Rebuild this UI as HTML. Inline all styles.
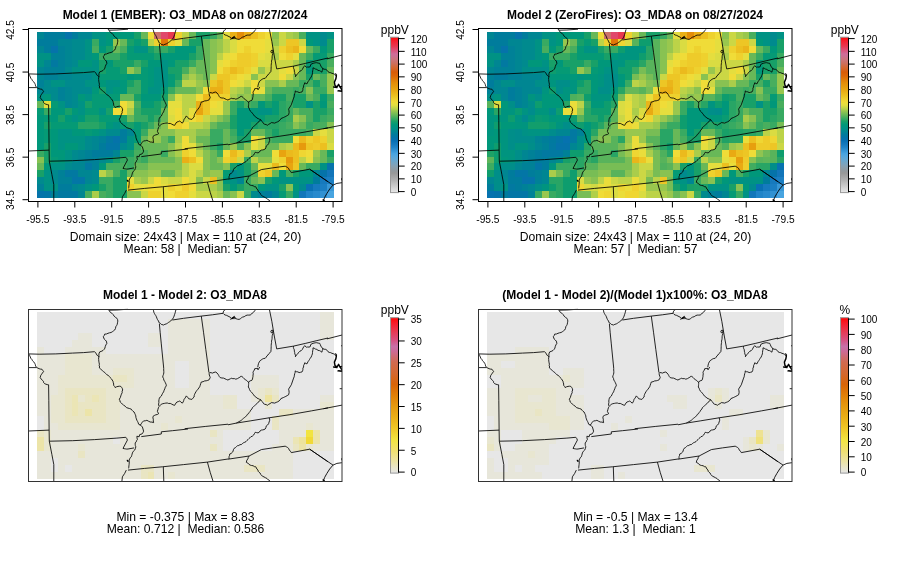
<!DOCTYPE html>
<html><head><meta charset="utf-8"><title>O3_MDA8</title>
<style>
html,body{margin:0;padding:0;background:#fff;}
svg{display:block;will-change:transform;font-family:"Liberation Sans",sans-serif;}
text{fill:#000;}

.t{font-weight:bold;font-size:12px;}
.s{font-size:12.15px;}
</style></head><body>
<svg width="900" height="561" viewBox="0 0 900 561">
<defs>
<linearGradient id="g1" x1="0" y1="1" x2="0" y2="0">
<stop offset="0.0000" stop-color="#e8e8e8"/>
<stop offset="0.0417" stop-color="#cccccc"/>
<stop offset="0.0833" stop-color="#b0b0b0"/>
<stop offset="0.1042" stop-color="#a4a4a4"/>
<stop offset="0.1250" stop-color="#989898"/>
<stop offset="0.1458" stop-color="#909aa0"/>
<stop offset="0.1667" stop-color="#88a0b0"/>
<stop offset="0.1875" stop-color="#78a4c0"/>
<stop offset="0.2083" stop-color="#68a8d0"/>
<stop offset="0.2292" stop-color="#58a8dc"/>
<stop offset="0.2500" stop-color="#48a4e0"/>
<stop offset="0.2708" stop-color="#3494d4"/>
<stop offset="0.2917" stop-color="#2084c8"/>
<stop offset="0.3125" stop-color="#1478bc"/>
<stop offset="0.3333" stop-color="#0870b4"/>
<stop offset="0.3542" stop-color="#0474a8"/>
<stop offset="0.3750" stop-color="#007c9c"/>
<stop offset="0.3958" stop-color="#008890"/>
<stop offset="0.4167" stop-color="#009284"/>
<stop offset="0.4375" stop-color="#009878"/>
<stop offset="0.4583" stop-color="#18a068"/>
<stop offset="0.4792" stop-color="#40ac60"/>
<stop offset="0.5000" stop-color="#68b858"/>
<stop offset="0.5208" stop-color="#90c450"/>
<stop offset="0.5417" stop-color="#bcd348"/>
<stop offset="0.5625" stop-color="#e2de40"/>
<stop offset="0.5833" stop-color="#f0dc38"/>
<stop offset="0.6250" stop-color="#ecc020"/>
<stop offset="0.6667" stop-color="#e8a410"/>
<stop offset="0.7083" stop-color="#e48c08"/>
<stop offset="0.7500" stop-color="#dc6808"/>
<stop offset="0.7750" stop-color="#d85c08"/>
<stop offset="0.8083" stop-color="#d46a38"/>
<stop offset="0.8333" stop-color="#cc7060"/>
<stop offset="0.8542" stop-color="#cc7478"/>
<stop offset="0.8750" stop-color="#cc7090"/>
<stop offset="0.8917" stop-color="#cf6c9a"/>
<stop offset="0.9167" stop-color="#dc5078"/>
<stop offset="0.9417" stop-color="#e83850"/>
<stop offset="0.9750" stop-color="#f52030"/>
<stop offset="1.0000" stop-color="#ff0a0a"/>
</linearGradient>
<linearGradient id="g2" x1="0" y1="1" x2="0" y2="0">
<stop offset="0.0000" stop-color="#e7e7e7"/>
<stop offset="0.0143" stop-color="#e7e6da"/>
<stop offset="0.0286" stop-color="#e8e6d0"/>
<stop offset="0.0714" stop-color="#ece4a8"/>
<stop offset="0.1429" stop-color="#f0e070"/>
<stop offset="0.2143" stop-color="#f2e440"/>
<stop offset="0.2857" stop-color="#f0c828"/>
<stop offset="0.3571" stop-color="#eab018"/>
<stop offset="0.4286" stop-color="#e59a10"/>
<stop offset="0.5000" stop-color="#e08008"/>
<stop offset="0.5714" stop-color="#d86408"/>
<stop offset="0.6429" stop-color="#d46830"/>
<stop offset="0.7143" stop-color="#d06a50"/>
<stop offset="0.7857" stop-color="#cc6a98"/>
<stop offset="0.8143" stop-color="#c870a8"/>
<stop offset="0.8571" stop-color="#d85080"/>
<stop offset="0.9143" stop-color="#e83850"/>
<stop offset="0.9571" stop-color="#f52030"/>
<stop offset="1.0000" stop-color="#ff0808"/>
</linearGradient>
</defs>
<rect width="900" height="561" fill="#fff"/>
<g>

<text class="t" x="185" y="18.5" text-anchor="middle">Model 1 (EMBER): O3_MDA8 on 08/27/2024</text>
<text class="t" x="635" y="18.5" text-anchor="middle">Model 2 (ZeroFires): O3_MDA8 on 08/27/2024</text>
<text class="t" x="185" y="299.0" text-anchor="middle">Model 1 - Model 2: O3_MDA8</text>
<text class="t" x="635" y="299.0" text-anchor="middle">(Model 1 - Model 2)/(Model 1)x100%: O3_MDA8</text>
<text class="s" x="185.5" y="241" text-anchor="middle">Domain size: 24x43 | Max = 110 at (24, 20)</text>
<text class="s" x="185.5" y="253" text-anchor="middle" xml:space="preserve">Mean: 58 |  Median: 57</text>
<text class="s" x="635.5" y="241" text-anchor="middle">Domain size: 24x43 | Max = 110 at (24, 20)</text>
<text class="s" x="635.5" y="253" text-anchor="middle" xml:space="preserve">Mean: 57 |  Median: 57</text>
<text class="s" x="185.5" y="521" text-anchor="middle">Min = -0.375 | Max = 8.83</text>
<text class="s" x="185.5" y="533" text-anchor="middle" xml:space="preserve">Mean: 0.712 |  Median: 0.586</text>
<text class="s" x="635.5" y="521" text-anchor="middle">Min = -0.5 | Max = 13.4</text>
<text class="s" x="635.5" y="533" text-anchor="middle" xml:space="preserve">Mean: 1.3 |  Median: 1</text>
<g shape-rendering="crispEdges"><path fill="#008692" d="M37.00 32.00h6.91v6.92h-6.91zM78.44 32.00h13.81v6.92h-13.81zM57.72 38.92h13.81v6.92h-13.81zM37.00 45.83h6.91v6.92h-6.91zM64.63 45.83h6.91v6.92h-6.91zM64.63 52.75h6.91v6.92h-6.91zM43.91 59.67h6.91v6.92h-6.91zM64.63 59.67h6.91v6.92h-6.91zM37.00 66.58h6.91v6.92h-6.91zM37.00 73.50h6.91v6.92h-6.91zM57.72 73.50h13.81v6.92h-13.81zM37.00 87.33h6.91v6.92h-6.91zM64.63 87.33h6.91v6.92h-6.91zM64.63 94.25h6.91v6.92h-6.91zM64.63 101.17h6.91v6.92h-6.91zM126.79 128.83h6.91v6.92h-6.91zM92.26 135.75h6.91v6.92h-6.91zM92.26 142.67h6.91v6.92h-6.91zM78.44 149.58h6.91v6.92h-6.91zM112.98 149.58h6.91v6.92h-6.91zM78.44 156.50h6.91v6.92h-6.91zM71.53 163.42h13.81v6.92h-13.81zM78.44 170.33h13.81v6.92h-13.81zM313.28 170.33h6.91v6.92h-6.91zM85.35 177.25h6.91v6.92h-6.91zM237.30 177.25h6.91v6.92h-6.91zM71.53 184.17h6.91v6.92h-6.91zM78.44 191.08h6.91v6.92h-6.91zM271.84 191.08h6.91v6.92h-6.91z"/>
<path fill="#007c9c" d="M43.91 32.00h20.72v6.92h-20.72zM71.53 32.00h6.91v6.92h-6.91zM37.00 38.92h20.72v6.92h-20.72zM43.91 45.83h6.91v6.92h-6.91zM119.88 128.83h6.91v6.92h-6.91zM119.88 135.75h6.91v6.92h-6.91zM99.16 142.67h6.91v6.92h-6.91zM92.26 149.58h20.72v6.92h-20.72zM313.28 177.25h6.91v6.92h-6.91zM57.72 184.17h13.81v6.92h-13.81zM264.93 191.08h6.91v6.92h-6.91z"/>
<path fill="#0573aa" d="M64.63 32.00h6.91v6.92h-6.91zM50.81 45.83h6.91v6.92h-6.91zM112.98 135.75h6.91v6.92h-6.91zM327.09 163.42h6.91v6.92h-6.91zM320.19 170.33h6.91v6.92h-6.91zM37.00 191.08h6.91v6.92h-6.91z"/>
<path fill="#009284" d="M92.26 32.00h13.81v6.92h-13.81zM306.37 32.00h13.81v6.92h-13.81zM327.09 32.00h6.91v6.92h-6.91zM85.35 38.92h6.91v6.92h-6.91zM99.16 38.92h6.91v6.92h-6.91zM313.28 38.92h6.91v6.92h-6.91zM85.35 45.83h6.91v6.92h-6.91zM133.70 45.83h13.81v6.92h-13.81zM37.00 52.75h13.81v6.92h-13.81zM85.35 52.75h6.91v6.92h-6.91zM37.00 59.67h6.91v6.92h-6.91zM92.26 59.67h6.91v6.92h-6.91zM161.33 59.67h6.91v6.92h-6.91zM71.53 66.58h27.63v6.92h-27.63zM154.42 66.58h13.81v6.92h-13.81zM92.26 73.50h6.91v6.92h-6.91zM154.42 73.50h13.81v6.92h-13.81zM50.81 80.42h13.81v6.92h-13.81zM85.35 80.42h13.81v6.92h-13.81zM106.07 80.42h13.81v6.92h-13.81zM154.42 80.42h13.81v6.92h-13.81zM106.07 87.33h6.91v6.92h-6.91zM147.51 87.33h13.81v6.92h-13.81zM37.00 94.25h6.91v6.92h-6.91zM85.35 94.25h6.91v6.92h-6.91zM57.72 101.17h6.91v6.92h-6.91zM78.44 101.17h6.91v6.92h-6.91zM306.37 101.17h6.91v6.92h-6.91zM78.44 108.08h6.91v6.92h-6.91zM99.16 108.08h6.91v6.92h-6.91zM258.02 108.08h13.81v6.92h-13.81zM71.53 115.00h6.91v6.92h-6.91zM112.98 121.92h6.91v6.92h-6.91zM57.72 128.83h13.81v6.92h-13.81zM99.16 128.83h6.91v6.92h-6.91zM57.72 135.75h27.63v6.92h-27.63zM126.79 135.75h6.91v6.92h-6.91zM57.72 142.67h6.91v6.92h-6.91zM78.44 142.67h6.91v6.92h-6.91zM126.79 142.67h6.91v6.92h-6.91zM64.63 149.58h6.91v6.92h-6.91zM64.63 156.50h6.91v6.92h-6.91zM106.07 156.50h6.91v6.92h-6.91zM50.81 163.42h13.81v6.92h-13.81zM320.19 163.42h6.91v6.92h-6.91zM43.91 170.33h6.91v6.92h-6.91zM237.30 170.33h6.91v6.92h-6.91zM43.91 177.25h6.91v6.92h-6.91zM230.40 177.25h6.91v6.92h-6.91zM278.74 177.25h34.53v6.92h-34.53zM43.91 184.17h13.81v6.92h-13.81zM85.35 184.17h6.91v6.92h-6.91zM264.93 184.17h13.81v6.92h-13.81zM292.56 191.08h6.91v6.92h-6.91z"/>
<path fill="#00977a" d="M106.07 32.00h27.63v6.92h-27.63zM106.07 38.92h6.91v6.92h-6.91zM306.37 38.92h6.91v6.92h-6.91zM99.16 45.83h6.91v6.92h-6.91zM175.14 45.83h20.72v6.92h-20.72zM320.19 45.83h6.91v6.92h-6.91zM92.26 52.75h6.91v6.92h-6.91zM161.33 52.75h27.63v6.92h-27.63zM78.44 59.67h13.81v6.92h-13.81zM106.07 59.67h6.91v6.92h-6.91zM147.51 59.67h13.81v6.92h-13.81zM168.23 59.67h6.91v6.92h-6.91zM147.51 66.58h6.91v6.92h-6.91zM306.37 66.58h6.91v6.92h-6.91zM126.79 73.50h6.91v6.92h-6.91zM147.51 73.50h6.91v6.92h-6.91zM99.16 80.42h6.91v6.92h-6.91zM119.88 80.42h6.91v6.92h-6.91zM147.51 80.42h6.91v6.92h-6.91zM92.26 87.33h6.91v6.92h-6.91zM112.98 87.33h13.81v6.92h-13.81zM43.91 94.25h6.91v6.92h-6.91zM78.44 94.25h6.91v6.92h-6.91zM140.60 94.25h20.72v6.92h-20.72zM258.02 101.17h6.91v6.92h-6.91zM320.19 101.17h6.91v6.92h-6.91zM50.81 108.08h13.81v6.92h-13.81zM71.53 108.08h6.91v6.92h-6.91zM237.30 108.08h20.72v6.92h-20.72zM37.00 115.00h6.91v6.92h-6.91zM50.81 115.00h6.91v6.92h-6.91zM64.63 115.00h6.91v6.92h-6.91zM78.44 115.00h6.91v6.92h-6.91zM237.30 115.00h20.72v6.92h-20.72zM37.00 121.92h6.91v6.92h-6.91zM106.07 121.92h6.91v6.92h-6.91zM237.30 121.92h13.81v6.92h-13.81zM37.00 128.83h6.91v6.92h-6.91zM50.81 128.83h6.91v6.92h-6.91zM71.53 128.83h13.81v6.92h-13.81zM92.26 128.83h6.91v6.92h-6.91zM237.30 128.83h6.91v6.92h-6.91zM37.00 135.75h6.91v6.92h-6.91zM50.81 135.75h6.91v6.92h-6.91zM37.00 142.67h6.91v6.92h-6.91zM50.81 142.67h6.91v6.92h-6.91zM64.63 142.67h13.81v6.92h-13.81zM50.81 149.58h13.81v6.92h-13.81zM57.72 156.50h6.91v6.92h-6.91zM43.91 163.42h6.91v6.92h-6.91zM99.16 163.42h6.91v6.92h-6.91zM237.30 163.42h6.91v6.92h-6.91zM278.74 170.33h6.91v6.92h-6.91zM299.47 170.33h13.81v6.92h-13.81zM223.49 177.25h6.91v6.92h-6.91zM271.84 177.25h6.91v6.92h-6.91zM92.26 184.17h6.91v6.92h-6.91zM230.40 184.17h6.91v6.92h-6.91zM258.02 184.17h6.91v6.92h-6.91zM292.56 184.17h6.91v6.92h-6.91z"/>
<path fill="#18a068" d="M133.70 32.00h6.91v6.92h-6.91zM195.86 32.00h13.81v6.92h-13.81zM126.79 38.92h6.91v6.92h-6.91zM140.60 38.92h6.91v6.92h-6.91zM188.95 38.92h13.81v6.92h-13.81zM327.09 38.92h6.91v6.92h-6.91zM106.07 45.83h6.91v6.92h-6.91zM147.51 45.83h6.91v6.92h-6.91zM168.23 45.83h6.91v6.92h-6.91zM327.09 45.83h6.91v6.92h-6.91zM119.88 52.75h6.91v6.92h-6.91zM154.42 52.75h6.91v6.92h-6.91zM188.95 52.75h6.91v6.92h-6.91zM99.16 59.67h6.91v6.92h-6.91zM112.98 59.67h20.72v6.92h-20.72zM140.60 59.67h6.91v6.92h-6.91zM175.14 59.67h13.81v6.92h-13.81zM313.28 59.67h13.81v6.92h-13.81zM99.16 66.58h6.91v6.92h-6.91zM119.88 66.58h6.91v6.92h-6.91zM168.23 66.58h13.81v6.92h-13.81zM313.28 66.58h13.81v6.92h-13.81zM175.14 73.50h6.91v6.92h-6.91zM306.37 73.50h6.91v6.92h-6.91zM126.79 80.42h6.91v6.92h-6.91zM313.28 80.42h6.91v6.92h-6.91zM99.16 87.33h6.91v6.92h-6.91zM133.70 94.25h6.91v6.92h-6.91zM161.33 94.25h6.91v6.92h-6.91zM271.84 94.25h13.81v6.92h-13.81zM292.56 94.25h13.81v6.92h-13.81zM85.35 101.17h6.91v6.92h-6.91zM154.42 101.17h6.91v6.92h-6.91zM237.30 101.17h6.91v6.92h-6.91zM264.93 101.17h6.91v6.92h-6.91zM292.56 101.17h13.81v6.92h-13.81zM313.28 101.17h6.91v6.92h-6.91zM64.63 108.08h6.91v6.92h-6.91zM106.07 108.08h6.91v6.92h-6.91zM140.60 108.08h20.72v6.92h-20.72zM313.28 108.08h13.81v6.92h-13.81zM57.72 115.00h6.91v6.92h-6.91zM85.35 115.00h13.81v6.92h-13.81zM119.88 115.00h6.91v6.92h-6.91zM147.51 115.00h6.91v6.92h-6.91zM230.40 115.00h6.91v6.92h-6.91zM264.93 115.00h13.81v6.92h-13.81zM313.28 115.00h6.91v6.92h-6.91zM43.91 121.92h6.91v6.92h-6.91zM99.16 121.92h6.91v6.92h-6.91zM126.79 121.92h6.91v6.92h-6.91zM140.60 121.92h6.91v6.92h-6.91zM230.40 121.92h6.91v6.92h-6.91zM251.12 121.92h6.91v6.92h-6.91zM244.21 128.83h6.91v6.92h-6.91zM271.84 128.83h6.91v6.92h-6.91zM237.30 135.75h13.81v6.92h-13.81zM43.91 142.67h6.91v6.92h-6.91zM216.58 142.67h6.91v6.92h-6.91zM43.91 149.58h6.91v6.92h-6.91zM119.88 149.58h13.81v6.92h-13.81zM327.09 149.58h6.91v6.92h-6.91zM43.91 156.50h6.91v6.92h-6.91zM112.98 156.50h6.91v6.92h-6.91zM230.40 163.42h6.91v6.92h-6.91zM244.21 163.42h6.91v6.92h-6.91zM37.00 170.33h6.91v6.92h-6.91zM119.88 170.33h6.91v6.92h-6.91zM244.21 170.33h6.91v6.92h-6.91zM292.56 170.33h6.91v6.92h-6.91zM112.98 177.25h13.81v6.92h-13.81zM264.93 177.25h6.91v6.92h-6.91zM99.16 184.17h6.91v6.92h-6.91zM112.98 184.17h13.81v6.92h-13.81zM223.49 184.17h6.91v6.92h-6.91zM237.30 184.17h6.91v6.92h-6.91zM278.74 184.17h6.91v6.92h-6.91zM112.98 191.08h13.81v6.92h-13.81z"/>
<path fill="#68b858" d="M140.60 32.00h6.91v6.92h-6.91zM188.95 32.00h6.91v6.92h-6.91zM216.58 32.00h6.91v6.92h-6.91zM119.88 38.92h6.91v6.92h-6.91zM182.05 38.92h6.91v6.92h-6.91zM202.77 38.92h6.91v6.92h-6.91zM112.98 45.83h6.91v6.92h-6.91zM202.77 45.83h6.91v6.92h-6.91zM306.37 45.83h6.91v6.92h-6.91zM202.77 52.75h6.91v6.92h-6.91zM299.47 52.75h6.91v6.92h-6.91zM195.86 59.67h13.81v6.92h-13.81zM299.47 59.67h6.91v6.92h-6.91zM133.70 66.58h6.91v6.92h-6.91zM195.86 66.58h13.81v6.92h-13.81zM299.47 66.58h6.91v6.92h-6.91zM327.09 66.58h6.91v6.92h-6.91zM202.77 73.50h6.91v6.92h-6.91zM299.47 73.50h6.91v6.92h-6.91zM313.28 73.50h6.91v6.92h-6.91zM285.65 80.42h13.81v6.92h-13.81zM175.14 87.33h20.72v6.92h-20.72zM264.93 87.33h6.91v6.92h-6.91zM119.88 94.25h13.81v6.92h-13.81zM251.12 94.25h13.81v6.92h-13.81zM306.37 94.25h6.91v6.92h-6.91zM37.00 101.17h6.91v6.92h-6.91zM161.33 108.08h6.91v6.92h-6.91zM292.56 108.08h6.91v6.92h-6.91zM126.79 115.00h6.91v6.92h-6.91zM161.33 115.00h6.91v6.92h-6.91zM223.49 115.00h6.91v6.92h-6.91zM154.42 121.92h6.91v6.92h-6.91zM209.67 121.92h6.91v6.92h-6.91zM299.47 121.92h6.91v6.92h-6.91zM223.49 128.83h6.91v6.92h-6.91zM251.12 128.83h13.81v6.92h-13.81zM140.60 135.75h6.91v6.92h-6.91zM161.33 135.75h6.91v6.92h-6.91zM195.86 135.75h13.81v6.92h-13.81zM223.49 135.75h6.91v6.92h-6.91zM140.60 142.67h27.63v6.92h-27.63zM202.77 142.67h6.91v6.92h-6.91zM223.49 142.67h6.91v6.92h-6.91zM264.93 142.67h13.81v6.92h-13.81zM147.51 149.58h13.81v6.92h-13.81zM209.67 149.58h6.91v6.92h-6.91zM251.12 149.58h20.72v6.92h-20.72zM320.19 149.58h6.91v6.92h-6.91zM147.51 156.50h27.63v6.92h-27.63zM209.67 156.50h6.91v6.92h-6.91zM320.19 156.50h6.91v6.92h-6.91zM37.00 163.42h6.91v6.92h-6.91zM133.70 163.42h13.81v6.92h-13.81zM209.67 163.42h13.81v6.92h-13.81zM251.12 163.42h6.91v6.92h-6.91zM299.47 163.42h6.91v6.92h-6.91zM126.79 170.33h6.91v6.92h-6.91zM161.33 170.33h13.81v6.92h-13.81zM271.84 170.33h6.91v6.92h-6.91zM251.12 177.25h6.91v6.92h-6.91zM223.49 191.08h6.91v6.92h-6.91z"/>
<path fill="#f0dc38" d="M147.51 32.00h6.91v6.92h-6.91zM264.93 32.00h6.91v6.92h-6.91zM237.30 38.92h27.63v6.92h-27.63zM237.30 45.83h6.91v6.92h-6.91zM251.12 45.83h13.81v6.92h-13.81zM299.47 45.83h6.91v6.92h-6.91zM230.40 52.75h6.91v6.92h-6.91zM278.74 52.75h6.91v6.92h-6.91zM223.49 59.67h6.91v6.92h-6.91zM216.58 66.58h6.91v6.92h-6.91zM285.65 66.58h6.91v6.92h-6.91zM237.30 73.50h6.91v6.92h-6.91zM278.74 73.50h6.91v6.92h-6.91zM230.40 80.42h6.91v6.92h-6.91zM251.12 80.42h6.91v6.92h-6.91zM202.77 87.33h6.91v6.92h-6.91zM251.12 87.33h6.91v6.92h-6.91zM195.86 94.25h6.91v6.92h-6.91zM119.88 101.17h6.91v6.92h-6.91zM209.67 101.17h6.91v6.92h-6.91zM112.98 108.08h13.81v6.92h-13.81zM175.14 108.08h6.91v6.92h-6.91zM175.14 115.00h6.91v6.92h-6.91zM188.95 115.00h6.91v6.92h-6.91zM168.23 121.92h6.91v6.92h-6.91zM182.05 121.92h6.91v6.92h-6.91zM182.05 135.75h6.91v6.92h-6.91zM251.12 135.75h6.91v6.92h-6.91zM292.56 135.75h6.91v6.92h-6.91zM182.05 142.67h6.91v6.92h-6.91zM188.95 149.58h6.91v6.92h-6.91zM223.49 149.58h6.91v6.92h-6.91zM271.84 149.58h6.91v6.92h-6.91zM306.37 149.58h6.91v6.92h-6.91zM195.86 156.50h6.91v6.92h-6.91zM278.74 163.42h6.91v6.92h-6.91zM154.42 177.25h6.91v6.92h-6.91zM182.05 177.25h6.91v6.92h-6.91zM147.51 184.17h13.81v6.92h-13.81zM175.14 184.17h6.91v6.92h-6.91zM188.95 184.17h6.91v6.92h-6.91zM168.23 191.08h6.91v6.92h-6.91z"/>
<path fill="#cc726a" d="M154.42 32.00h6.91v6.92h-6.91z"/>
<path fill="#e0486b" d="M161.33 32.00h6.91v6.92h-6.91z"/>
<path fill="#e83850" d="M168.23 32.00h6.91v6.92h-6.91z"/>
<path fill="#eed12e" d="M175.14 32.00h6.91v6.92h-6.91zM258.02 32.00h6.91v6.92h-6.91zM154.42 38.92h6.91v6.92h-6.91zM168.23 38.92h6.91v6.92h-6.91zM244.21 45.83h6.91v6.92h-6.91zM278.74 45.83h6.91v6.92h-6.91zM251.12 52.75h6.91v6.92h-6.91zM285.65 52.75h6.91v6.92h-6.91zM230.40 59.67h6.91v6.92h-6.91zM251.12 59.67h6.91v6.92h-6.91zM244.21 66.58h6.91v6.92h-6.91zM230.40 73.50h6.91v6.92h-6.91zM209.67 94.25h20.72v6.92h-20.72zM195.86 115.00h6.91v6.92h-6.91zM175.14 121.92h6.91v6.92h-6.91zM306.37 135.75h6.91v6.92h-6.91zM320.19 135.75h6.91v6.92h-6.91zM182.05 149.58h6.91v6.92h-6.91zM237.30 149.58h6.91v6.92h-6.91zM223.49 156.50h6.91v6.92h-6.91zM278.74 156.50h6.91v6.92h-6.91zM258.02 170.33h6.91v6.92h-6.91zM126.79 184.17h6.91v6.92h-6.91zM168.23 184.17h6.91v6.92h-6.91zM147.51 191.08h13.81v6.92h-13.81zM175.14 191.08h13.81v6.92h-13.81z"/>
<path fill="#bcd348" d="M182.05 32.00h6.91v6.92h-6.91zM147.51 38.92h6.91v6.92h-6.91zM223.49 38.92h6.91v6.92h-6.91zM223.49 45.83h6.91v6.92h-6.91zM271.84 45.83h6.91v6.92h-6.91zM216.58 52.75h6.91v6.92h-6.91zM182.05 80.42h13.81v6.92h-13.81zM230.40 87.33h6.91v6.92h-6.91zM182.05 94.25h13.81v6.92h-13.81zM182.05 101.17h13.81v6.92h-13.81zM182.05 108.08h6.91v6.92h-6.91zM188.95 121.92h13.81v6.92h-13.81zM175.14 142.67h6.91v6.92h-6.91zM285.65 142.67h6.91v6.92h-6.91zM195.86 149.58h6.91v6.92h-6.91zM251.12 156.50h6.91v6.92h-6.91zM299.47 156.50h6.91v6.92h-6.91zM182.05 163.42h6.91v6.92h-6.91zM99.16 170.33h6.91v6.92h-6.91zM182.05 170.33h6.91v6.92h-6.91zM195.86 170.33h6.91v6.92h-6.91zM209.67 191.08h6.91v6.92h-6.91z"/>
<path fill="#38aa62" d="M209.67 32.00h6.91v6.92h-6.91zM92.26 38.92h6.91v6.92h-6.91zM154.42 45.83h13.81v6.92h-13.81zM195.86 45.83h6.91v6.92h-6.91zM313.28 45.83h6.91v6.92h-6.91zM99.16 52.75h20.72v6.92h-20.72zM195.86 52.75h6.91v6.92h-6.91zM306.37 52.75h6.91v6.92h-6.91zM327.09 52.75h6.91v6.92h-6.91zM133.70 59.67h6.91v6.92h-6.91zM188.95 59.67h6.91v6.92h-6.91zM133.70 80.42h6.91v6.92h-6.91zM175.14 80.42h6.91v6.92h-6.91zM299.47 80.42h6.91v6.92h-6.91zM126.79 87.33h13.81v6.92h-13.81zM168.23 87.33h6.91v6.92h-6.91zM292.56 87.33h6.91v6.92h-6.91zM313.28 87.33h13.81v6.92h-13.81zM327.09 94.25h6.91v6.92h-6.91zM112.98 101.17h6.91v6.92h-6.91zM161.33 101.17h6.91v6.92h-6.91zM230.40 101.17h6.91v6.92h-6.91zM251.12 101.17h6.91v6.92h-6.91zM285.65 101.17h6.91v6.92h-6.91zM43.91 108.08h6.91v6.92h-6.91zM133.70 108.08h6.91v6.92h-6.91zM230.40 108.08h6.91v6.92h-6.91zM285.65 108.08h6.91v6.92h-6.91zM327.09 108.08h6.91v6.92h-6.91zM133.70 115.00h13.81v6.92h-13.81zM154.42 115.00h6.91v6.92h-6.91zM285.65 115.00h6.91v6.92h-6.91zM320.19 115.00h6.91v6.92h-6.91zM147.51 121.92h6.91v6.92h-6.91zM278.74 121.92h6.91v6.92h-6.91zM306.37 121.92h6.91v6.92h-6.91zM140.60 128.83h6.91v6.92h-6.91zM209.67 128.83h13.81v6.92h-13.81zM230.40 128.83h6.91v6.92h-6.91zM264.93 128.83h6.91v6.92h-6.91zM278.74 128.83h27.63v6.92h-27.63zM168.23 135.75h6.91v6.92h-6.91zM209.67 135.75h13.81v6.92h-13.81zM271.84 135.75h20.72v6.92h-20.72zM133.70 142.67h6.91v6.92h-6.91zM209.67 142.67h6.91v6.92h-6.91zM37.00 149.58h6.91v6.92h-6.91zM161.33 149.58h6.91v6.92h-6.91zM216.58 149.58h6.91v6.92h-6.91zM119.88 156.50h13.81v6.92h-13.81zM140.60 156.50h6.91v6.92h-6.91zM244.21 156.50h6.91v6.92h-6.91zM327.09 156.50h6.91v6.92h-6.91zM126.79 163.42h6.91v6.92h-6.91zM306.37 163.42h13.81v6.92h-13.81zM99.16 177.25h13.81v6.92h-13.81zM244.21 177.25h6.91v6.92h-6.91zM106.07 184.17h6.91v6.92h-6.91zM244.21 184.17h13.81v6.92h-13.81zM106.07 191.08h6.91v6.92h-6.91zM244.21 191.08h6.91v6.92h-6.91zM285.65 191.08h6.91v6.92h-6.91z"/>
<path fill="#e5de3e" d="M223.49 32.00h6.91v6.92h-6.91zM175.14 38.92h6.91v6.92h-6.91zM264.93 38.92h6.91v6.92h-6.91zM264.93 45.83h6.91v6.92h-6.91zM223.49 52.75h6.91v6.92h-6.91zM258.02 52.75h6.91v6.92h-6.91zM292.56 52.75h6.91v6.92h-6.91zM216.58 59.67h6.91v6.92h-6.91zM251.12 66.58h6.91v6.92h-6.91zM278.74 66.58h6.91v6.92h-6.91zM244.21 73.50h6.91v6.92h-6.91zM237.30 80.42h6.91v6.92h-6.91zM258.02 87.33h6.91v6.92h-6.91zM43.91 101.17h6.91v6.92h-6.91zM168.23 101.17h13.81v6.92h-13.81zM216.58 101.17h6.91v6.92h-6.91zM168.23 108.08h6.91v6.92h-6.91zM188.95 108.08h6.91v6.92h-6.91zM209.67 108.08h13.81v6.92h-13.81zM320.19 128.83h6.91v6.92h-6.91zM188.95 142.67h6.91v6.92h-6.91zM251.12 142.67h6.91v6.92h-6.91zM271.84 156.50h6.91v6.92h-6.91zM306.37 156.50h6.91v6.92h-6.91zM258.02 163.42h13.81v6.92h-13.81zM126.79 177.25h6.91v6.92h-6.91zM133.70 184.17h13.81v6.92h-13.81zM161.33 184.17h6.91v6.92h-6.91zM161.33 191.08h6.91v6.92h-6.91zM188.95 191.08h6.91v6.92h-6.91z"/>
<path fill="#eaaf16" d="M230.40 32.00h6.91v6.92h-6.91zM244.21 32.00h6.91v6.92h-6.91zM209.67 87.33h13.81v6.92h-13.81zM195.86 101.17h6.91v6.92h-6.91zM182.05 156.50h6.91v6.92h-6.91z"/>
<path fill="#e48c08" d="M237.30 32.00h6.91v6.92h-6.91z"/>
<path fill="#ecc020" d="M251.12 32.00h6.91v6.92h-6.91zM285.65 45.83h6.91v6.92h-6.91zM320.19 142.67h6.91v6.92h-6.91zM292.56 149.58h6.91v6.92h-6.91zM188.95 156.50h6.91v6.92h-6.91zM292.56 156.50h6.91v6.92h-6.91zM209.67 177.25h6.91v6.92h-6.91z"/>
<path fill="#88c252" d="M271.84 32.00h6.91v6.92h-6.91zM209.67 38.92h6.91v6.92h-6.91zM209.67 45.83h6.91v6.92h-6.91zM209.67 52.75h6.91v6.92h-6.91zM209.67 59.67h6.91v6.92h-6.91zM188.95 66.58h6.91v6.92h-6.91zM209.67 66.58h6.91v6.92h-6.91zM182.05 73.50h6.91v6.92h-6.91zM195.86 73.50h6.91v6.92h-6.91zM251.12 73.50h6.91v6.92h-6.91zM292.56 73.50h6.91v6.92h-6.91zM202.77 80.42h6.91v6.92h-6.91zM264.93 80.42h13.81v6.92h-13.81zM195.86 87.33h6.91v6.92h-6.91zM244.21 87.33h6.91v6.92h-6.91zM306.37 87.33h6.91v6.92h-6.91zM168.23 94.25h6.91v6.92h-6.91zM237.30 94.25h6.91v6.92h-6.91zM216.58 115.00h6.91v6.92h-6.91zM299.47 115.00h6.91v6.92h-6.91zM161.33 121.92h6.91v6.92h-6.91zM292.56 121.92h6.91v6.92h-6.91zM327.09 121.92h6.91v6.92h-6.91zM147.51 128.83h27.63v6.92h-27.63zM195.86 128.83h13.81v6.92h-13.81zM168.23 142.67h6.91v6.92h-6.91zM244.21 142.67h6.91v6.92h-6.91zM168.23 149.58h6.91v6.92h-6.91zM202.77 149.58h6.91v6.92h-6.91zM37.00 156.50h6.91v6.92h-6.91zM175.14 156.50h6.91v6.92h-6.91zM202.77 156.50h6.91v6.92h-6.91zM216.58 156.50h6.91v6.92h-6.91zM258.02 156.50h13.81v6.92h-13.81zM313.28 156.50h6.91v6.92h-6.91zM147.51 163.42h34.53v6.92h-34.53zM202.77 163.42h6.91v6.92h-6.91zM223.49 163.42h6.91v6.92h-6.91zM106.07 170.33h6.91v6.92h-6.91zM133.70 170.33h13.81v6.92h-13.81zM202.77 170.33h6.91v6.92h-6.91zM195.86 177.25h6.91v6.92h-6.91zM216.58 177.25h6.91v6.92h-6.91zM258.02 177.25h6.91v6.92h-6.91zM216.58 184.17h6.91v6.92h-6.91zM285.65 184.17h6.91v6.92h-6.91zM126.79 191.08h13.81v6.92h-13.81zM230.40 191.08h6.91v6.92h-6.91z"/>
<path fill="#cbd745" d="M278.74 32.00h6.91v6.92h-6.91zM278.74 38.92h6.91v6.92h-6.91zM299.47 38.92h6.91v6.92h-6.91zM271.84 59.67h20.72v6.92h-20.72zM264.93 66.58h13.81v6.92h-13.81zM292.56 66.58h6.91v6.92h-6.91zM209.67 73.50h6.91v6.92h-6.91zM258.02 73.50h20.72v6.92h-20.72zM285.65 73.50h6.91v6.92h-6.91zM244.21 80.42h6.91v6.92h-6.91zM258.02 80.42h6.91v6.92h-6.91zM126.79 101.17h6.91v6.92h-6.91zM182.05 115.00h6.91v6.92h-6.91zM202.77 115.00h6.91v6.92h-6.91zM313.28 128.83h6.91v6.92h-6.91zM327.09 128.83h6.91v6.92h-6.91zM258.02 135.75h6.91v6.92h-6.91zM327.09 135.75h6.91v6.92h-6.91zM258.02 142.67h6.91v6.92h-6.91zM237.30 156.50h6.91v6.92h-6.91zM147.51 177.25h6.91v6.92h-6.91zM168.23 177.25h13.81v6.92h-13.81zM202.77 177.25h6.91v6.92h-6.91zM140.60 191.08h6.91v6.92h-6.91zM195.86 191.08h13.81v6.92h-13.81zM237.30 191.08h6.91v6.92h-6.91z"/>
<path fill="#aacd4b" d="M285.65 32.00h6.91v6.92h-6.91zM271.84 52.75h6.91v6.92h-6.91zM292.56 59.67h6.91v6.92h-6.91zM188.95 73.50h6.91v6.92h-6.91zM278.74 80.42h6.91v6.92h-6.91zM237.30 87.33h6.91v6.92h-6.91zM230.40 94.25h6.91v6.92h-6.91zM126.79 108.08h6.91v6.92h-6.91zM209.67 115.00h6.91v6.92h-6.91zM292.56 115.00h6.91v6.92h-6.91zM202.77 121.92h6.91v6.92h-6.91zM175.14 128.83h20.72v6.92h-20.72zM175.14 135.75h6.91v6.92h-6.91zM188.95 135.75h6.91v6.92h-6.91zM278.74 142.67h6.91v6.92h-6.91zM175.14 149.58h6.91v6.92h-6.91zM244.21 149.58h6.91v6.92h-6.91zM133.70 177.25h6.91v6.92h-6.91zM195.86 184.17h20.72v6.92h-20.72zM92.26 191.08h6.91v6.92h-6.91zM216.58 191.08h6.91v6.92h-6.91z"/>
<path fill="#99c74e" d="M292.56 32.00h6.91v6.92h-6.91zM112.98 38.92h6.91v6.92h-6.91zM216.58 38.92h6.91v6.92h-6.91zM271.84 38.92h6.91v6.92h-6.91zM216.58 45.83h6.91v6.92h-6.91zM126.79 66.58h6.91v6.92h-6.91zM258.02 66.58h6.91v6.92h-6.91zM327.09 73.50h6.91v6.92h-6.91zM195.86 80.42h6.91v6.92h-6.91zM327.09 80.42h6.91v6.92h-6.91zM327.09 87.33h6.91v6.92h-6.91zM244.21 94.25h6.91v6.92h-6.91zM223.49 101.17h6.91v6.92h-6.91zM223.49 108.08h6.91v6.92h-6.91zM147.51 135.75h13.81v6.92h-13.81zM195.86 142.67h6.91v6.92h-6.91zM230.40 142.67h6.91v6.92h-6.91zM313.28 149.58h6.91v6.92h-6.91zM147.51 170.33h13.81v6.92h-13.81zM175.14 170.33h6.91v6.92h-6.91zM209.67 170.33h13.81v6.92h-13.81zM140.60 177.25h6.91v6.92h-6.91z"/>
<path fill="#48ae5e" d="M299.47 32.00h6.91v6.92h-6.91zM92.26 45.83h6.91v6.92h-6.91zM119.88 45.83h6.91v6.92h-6.91zM327.09 59.67h6.91v6.92h-6.91zM182.05 66.58h6.91v6.92h-6.91zM320.19 73.50h6.91v6.92h-6.91zM306.37 80.42h6.91v6.92h-6.91zM320.19 80.42h6.91v6.92h-6.91zM271.84 87.33h20.72v6.92h-20.72zM299.47 87.33h6.91v6.92h-6.91zM264.93 94.25h6.91v6.92h-6.91zM285.65 94.25h6.91v6.92h-6.91zM313.28 94.25h6.91v6.92h-6.91zM133.70 101.17h6.91v6.92h-6.91zM244.21 101.17h6.91v6.92h-6.91zM327.09 101.17h6.91v6.92h-6.91zM299.47 108.08h13.81v6.92h-13.81zM306.37 115.00h6.91v6.92h-6.91zM327.09 115.00h6.91v6.92h-6.91zM216.58 121.92h13.81v6.92h-13.81zM285.65 121.92h6.91v6.92h-6.91zM313.28 121.92h13.81v6.92h-13.81zM306.37 128.83h6.91v6.92h-6.91zM230.40 135.75h6.91v6.92h-6.91zM264.93 135.75h6.91v6.92h-6.91zM237.30 142.67h6.91v6.92h-6.91zM133.70 149.58h13.81v6.92h-13.81zM133.70 156.50h6.91v6.92h-6.91zM106.07 163.42h20.72v6.92h-20.72zM112.98 170.33h6.91v6.92h-6.91zM251.12 170.33h6.91v6.92h-6.91zM285.65 170.33h6.91v6.92h-6.91zM85.35 191.08h6.91v6.92h-6.91zM99.16 191.08h6.91v6.92h-6.91z"/>
<path fill="#008a8e" d="M320.19 32.00h6.91v6.92h-6.91zM71.53 38.92h13.81v6.92h-13.81zM320.19 38.92h6.91v6.92h-6.91zM71.53 45.83h13.81v6.92h-13.81zM71.53 52.75h13.81v6.92h-13.81zM71.53 59.67h6.91v6.92h-6.91zM64.63 66.58h6.91v6.92h-6.91zM71.53 73.50h20.72v6.92h-20.72zM43.91 80.42h6.91v6.92h-6.91zM64.63 80.42h20.72v6.92h-20.72zM43.91 87.33h13.81v6.92h-13.81zM71.53 87.33h20.72v6.92h-20.72zM50.81 94.25h6.91v6.92h-6.91zM71.53 94.25h6.91v6.92h-6.91zM71.53 101.17h6.91v6.92h-6.91zM106.07 128.83h13.81v6.92h-13.81zM85.35 135.75h6.91v6.92h-6.91zM85.35 142.67h6.91v6.92h-6.91zM119.88 142.67h6.91v6.92h-6.91zM71.53 149.58h6.91v6.92h-6.91zM71.53 156.50h6.91v6.92h-6.91zM99.16 156.50h6.91v6.92h-6.91zM64.63 163.42h6.91v6.92h-6.91zM50.81 170.33h6.91v6.92h-6.91zM92.26 170.33h6.91v6.92h-6.91zM230.40 170.33h6.91v6.92h-6.91zM37.00 177.25h6.91v6.92h-6.91zM50.81 177.25h6.91v6.92h-6.91zM92.26 177.25h6.91v6.92h-6.91zM78.44 184.17h6.91v6.92h-6.91zM299.47 184.17h6.91v6.92h-6.91zM251.12 191.08h6.91v6.92h-6.91z"/>
<path fill="#059a75" d="M133.70 38.92h6.91v6.92h-6.91zM126.79 45.83h6.91v6.92h-6.91zM126.79 52.75h27.63v6.92h-27.63zM313.28 52.75h13.81v6.92h-13.81zM306.37 59.67h6.91v6.92h-6.91zM106.07 66.58h13.81v6.92h-13.81zM140.60 66.58h6.91v6.92h-6.91zM99.16 73.50h27.63v6.92h-27.63zM133.70 73.50h13.81v6.92h-13.81zM168.23 73.50h6.91v6.92h-6.91zM140.60 80.42h6.91v6.92h-6.91zM168.23 80.42h6.91v6.92h-6.91zM140.60 87.33h6.91v6.92h-6.91zM161.33 87.33h6.91v6.92h-6.91zM92.26 94.25h27.63v6.92h-27.63zM320.19 94.25h6.91v6.92h-6.91zM50.81 101.17h6.91v6.92h-6.91zM92.26 101.17h20.72v6.92h-20.72zM140.60 101.17h13.81v6.92h-13.81zM271.84 101.17h6.91v6.92h-6.91zM37.00 108.08h6.91v6.92h-6.91zM85.35 108.08h13.81v6.92h-13.81zM271.84 108.08h6.91v6.92h-6.91zM43.91 115.00h6.91v6.92h-6.91zM99.16 115.00h20.72v6.92h-20.72zM258.02 115.00h6.91v6.92h-6.91zM50.81 121.92h27.63v6.92h-27.63zM119.88 121.92h6.91v6.92h-6.91zM133.70 121.92h6.91v6.92h-6.91zM43.91 128.83h6.91v6.92h-6.91zM85.35 128.83h6.91v6.92h-6.91zM133.70 128.83h6.91v6.92h-6.91zM43.91 135.75h6.91v6.92h-6.91zM133.70 135.75h6.91v6.92h-6.91zM50.81 156.50h6.91v6.92h-6.91zM223.49 170.33h6.91v6.92h-6.91zM278.74 191.08h6.91v6.92h-6.91z"/>
<path fill="#df7608" d="M161.33 38.92h6.91v6.92h-6.91z"/>
<path fill="#dadc42" d="M230.40 38.92h6.91v6.92h-6.91zM230.40 45.83h6.91v6.92h-6.91zM264.93 52.75h6.91v6.92h-6.91zM258.02 59.67h13.81v6.92h-13.81zM175.14 94.25h6.91v6.92h-6.91zM168.23 115.00h6.91v6.92h-6.91zM327.09 142.67h6.91v6.92h-6.91zM188.95 163.42h13.81v6.92h-13.81zM188.95 170.33h6.91v6.92h-6.91zM161.33 177.25h6.91v6.92h-6.91zM188.95 177.25h6.91v6.92h-6.91z"/>
<path fill="#edc625" d="M285.65 38.92h13.81v6.92h-13.81zM237.30 66.58h6.91v6.92h-6.91zM216.58 73.50h13.81v6.92h-13.81zM209.67 80.42h6.91v6.92h-6.91zM223.49 80.42h6.91v6.92h-6.91zM223.49 87.33h6.91v6.92h-6.91zM202.77 101.17h6.91v6.92h-6.91zM202.77 108.08h6.91v6.92h-6.91zM313.28 135.75h6.91v6.92h-6.91zM306.37 142.67h6.91v6.92h-6.91zM230.40 156.50h6.91v6.92h-6.91zM292.56 163.42h6.91v6.92h-6.91zM264.93 170.33h6.91v6.92h-6.91z"/>
<path fill="#008197" d="M57.72 45.83h6.91v6.92h-6.91zM50.81 52.75h13.81v6.92h-13.81zM57.72 59.67h6.91v6.92h-6.91zM43.91 66.58h20.72v6.92h-20.72zM43.91 73.50h13.81v6.92h-13.81zM37.00 80.42h6.91v6.92h-6.91zM57.72 87.33h6.91v6.92h-6.91zM57.72 94.25h6.91v6.92h-6.91zM99.16 135.75h6.91v6.92h-6.91zM85.35 149.58h6.91v6.92h-6.91zM85.35 156.50h13.81v6.92h-13.81zM92.26 163.42h6.91v6.92h-6.91zM57.72 170.33h6.91v6.92h-6.91zM57.72 177.25h13.81v6.92h-13.81zM37.00 184.17h6.91v6.92h-6.91zM50.81 191.08h6.91v6.92h-6.91zM258.02 191.08h6.91v6.92h-6.91z"/>
<path fill="#eab51a" d="M292.56 45.83h6.91v6.92h-6.91zM216.58 80.42h6.91v6.92h-6.91z"/>
<path fill="#eecb2a" d="M237.30 52.75h13.81v6.92h-13.81zM237.30 59.67h13.81v6.92h-13.81zM223.49 66.58h6.91v6.92h-6.91zM313.28 142.67h6.91v6.92h-6.91zM182.05 184.17h6.91v6.92h-6.91z"/>
<path fill="#0279a1" d="M50.81 59.67h6.91v6.92h-6.91zM106.07 135.75h6.91v6.92h-6.91zM85.35 163.42h6.91v6.92h-6.91zM64.63 170.33h13.81v6.92h-13.81zM57.72 191.08h20.72v6.92h-20.72z"/>
<path fill="#ebba1d" d="M230.40 66.58h6.91v6.92h-6.91zM202.77 94.25h6.91v6.92h-6.91zM299.47 135.75h6.91v6.92h-6.91zM292.56 142.67h6.91v6.92h-6.91zM230.40 149.58h6.91v6.92h-6.91zM285.65 149.58h6.91v6.92h-6.91zM271.84 163.42h6.91v6.92h-6.91z"/>
<path fill="#28a565" d="M278.74 101.17h6.91v6.92h-6.91zM278.74 108.08h6.91v6.92h-6.91zM278.74 115.00h6.91v6.92h-6.91zM78.44 121.92h20.72v6.92h-20.72zM258.02 121.92h20.72v6.92h-20.72z"/>
<path fill="#e8a410" d="M195.86 108.08h6.91v6.92h-6.91zM278.74 149.58h6.91v6.92h-6.91zM285.65 163.42h6.91v6.92h-6.91z"/>
<path fill="#0376a6" d="M106.07 142.67h13.81v6.92h-13.81zM71.53 177.25h13.81v6.92h-13.81zM43.91 191.08h6.91v6.92h-6.91z"/>
<path fill="#e69a0d" d="M299.47 142.67h6.91v6.92h-6.91zM285.65 156.50h6.91v6.92h-6.91z"/>
<path fill="#efd633" d="M299.47 149.58h6.91v6.92h-6.91z"/>
<path fill="#1276ba" d="M327.09 170.33h6.91v6.92h-6.91zM299.47 191.08h6.91v6.92h-6.91z"/>
<path fill="#167abe" d="M320.19 177.25h6.91v6.92h-6.91zM313.28 184.17h6.91v6.92h-6.91z"/>
<path fill="#1b7fc3" d="M327.09 177.25h6.91v6.92h-6.91zM320.19 184.17h6.91v6.92h-6.91z"/>
<path fill="#0870b4" d="M306.37 184.17h6.91v6.92h-6.91z"/>
<path fill="#3897d6" d="M327.09 184.17h6.91v6.92h-6.91z"/>
<path fill="#2084c8" d="M306.37 191.08h6.91v6.92h-6.91z"/>
<path fill="#288acd" d="M313.28 191.08h6.91v6.92h-6.91z"/>
<path fill="#3091d2" d="M320.19 191.08h6.91v6.92h-6.91z"/>
<path fill="#48a4e0" d="M327.09 191.08h6.91v6.92h-6.91z"/><path fill="#008692" d="M487.00 32.00h6.91v6.92h-6.91zM528.44 32.00h13.81v6.92h-13.81zM507.72 38.92h13.81v6.92h-13.81zM487.00 45.83h6.91v6.92h-6.91zM514.63 45.83h6.91v6.92h-6.91zM514.63 52.75h6.91v6.92h-6.91zM493.91 59.67h6.91v6.92h-6.91zM514.63 59.67h6.91v6.92h-6.91zM487.00 66.58h6.91v6.92h-6.91zM514.63 66.58h6.91v6.92h-6.91zM521.53 73.50h20.72v6.92h-20.72zM493.91 80.42h6.91v6.92h-6.91zM514.63 80.42h20.72v6.92h-20.72zM493.91 87.33h13.81v6.92h-13.81zM521.53 87.33h20.72v6.92h-20.72zM500.81 94.25h6.91v6.92h-6.91zM521.53 94.25h6.91v6.92h-6.91zM521.53 101.17h6.91v6.92h-6.91zM556.07 128.83h13.81v6.92h-13.81zM535.35 142.67h6.91v6.92h-6.91zM569.88 142.67h6.91v6.92h-6.91zM521.53 149.58h6.91v6.92h-6.91zM521.53 156.50h6.91v6.92h-6.91zM549.16 156.50h6.91v6.92h-6.91zM514.63 163.42h6.91v6.92h-6.91zM500.81 170.33h6.91v6.92h-6.91zM542.26 170.33h6.91v6.92h-6.91zM763.28 170.33h6.91v6.92h-6.91zM487.00 177.25h6.91v6.92h-6.91zM542.26 177.25h6.91v6.92h-6.91zM687.30 177.25h6.91v6.92h-6.91zM528.44 184.17h6.91v6.92h-6.91zM721.84 191.08h6.91v6.92h-6.91z"/>
<path fill="#007c9c" d="M493.91 32.00h20.72v6.92h-20.72zM521.53 32.00h6.91v6.92h-6.91zM487.00 38.92h20.72v6.92h-20.72zM493.91 45.83h6.91v6.92h-6.91zM493.91 73.50h13.81v6.92h-13.81zM487.00 80.42h6.91v6.92h-6.91zM507.72 87.33h6.91v6.92h-6.91zM507.72 94.25h6.91v6.92h-6.91zM535.35 149.58h6.91v6.92h-6.91zM535.35 156.50h13.81v6.92h-13.81zM542.26 163.42h6.91v6.92h-6.91zM507.72 170.33h6.91v6.92h-6.91zM507.72 177.25h13.81v6.92h-13.81zM763.28 177.25h6.91v6.92h-6.91zM487.00 184.17h6.91v6.92h-6.91zM514.63 184.17h6.91v6.92h-6.91zM500.81 191.08h6.91v6.92h-6.91zM714.93 191.08h6.91v6.92h-6.91z"/>
<path fill="#0573aa" d="M514.63 32.00h6.91v6.92h-6.91zM500.81 45.83h6.91v6.92h-6.91zM556.07 142.67h13.81v6.92h-13.81zM770.19 170.33h6.91v6.92h-6.91zM521.53 177.25h13.81v6.92h-13.81zM493.91 191.08h6.91v6.92h-6.91z"/>
<path fill="#009284" d="M542.26 32.00h13.81v6.92h-13.81zM756.37 32.00h13.81v6.92h-13.81zM777.09 32.00h6.91v6.92h-6.91zM535.35 38.92h6.91v6.92h-6.91zM549.16 38.92h6.91v6.92h-6.91zM763.28 38.92h6.91v6.92h-6.91zM535.35 45.83h6.91v6.92h-6.91zM583.70 45.83h13.81v6.92h-13.81zM487.00 52.75h13.81v6.92h-13.81zM535.35 52.75h6.91v6.92h-6.91zM487.00 59.67h6.91v6.92h-6.91zM542.26 59.67h6.91v6.92h-6.91zM611.33 59.67h6.91v6.92h-6.91zM604.42 66.58h13.81v6.92h-13.81zM756.37 101.17h6.91v6.92h-6.91zM687.30 170.33h6.91v6.92h-6.91zM680.40 177.25h6.91v6.92h-6.91zM728.74 177.25h34.53v6.92h-34.53zM500.81 184.17h6.91v6.92h-6.91zM714.93 184.17h13.81v6.92h-13.81zM742.56 191.08h6.91v6.92h-6.91z"/>
<path fill="#00977a" d="M556.07 32.00h27.63v6.92h-27.63zM556.07 38.92h6.91v6.92h-6.91zM756.37 38.92h6.91v6.92h-6.91zM549.16 45.83h6.91v6.92h-6.91zM770.19 45.83h6.91v6.92h-6.91zM542.26 52.75h6.91v6.92h-6.91zM611.33 52.75h6.91v6.92h-6.91zM528.44 59.67h13.81v6.92h-13.81zM556.07 59.67h6.91v6.92h-6.91zM597.51 59.67h13.81v6.92h-13.81zM597.51 66.58h6.91v6.92h-6.91zM756.37 66.58h6.91v6.92h-6.91zM549.16 73.50h27.63v6.92h-27.63zM583.70 73.50h13.81v6.92h-13.81zM618.23 73.50h6.91v6.92h-6.91zM590.60 80.42h6.91v6.92h-6.91zM618.23 80.42h6.91v6.92h-6.91zM590.60 87.33h6.91v6.92h-6.91zM611.33 87.33h6.91v6.92h-6.91zM542.26 94.25h20.72v6.92h-20.72zM500.81 101.17h6.91v6.92h-6.91zM542.26 101.17h20.72v6.92h-20.72zM590.60 101.17h13.81v6.92h-13.81zM721.84 101.17h6.91v6.92h-6.91zM770.19 101.17h6.91v6.92h-6.91zM487.00 108.08h6.91v6.92h-6.91zM687.30 108.08h13.81v6.92h-13.81zM721.84 108.08h6.91v6.92h-6.91zM493.91 115.00h6.91v6.92h-6.91zM556.07 115.00h13.81v6.92h-13.81zM687.30 115.00h13.81v6.92h-13.81zM708.02 115.00h13.81v6.92h-13.81zM500.81 121.92h13.81v6.92h-13.81zM569.88 121.92h6.91v6.92h-6.91zM583.70 121.92h6.91v6.92h-6.91zM687.30 121.92h13.81v6.92h-13.81zM493.91 128.83h6.91v6.92h-6.91zM583.70 128.83h6.91v6.92h-6.91zM687.30 128.83h6.91v6.92h-6.91zM487.00 135.75h13.81v6.92h-13.81zM583.70 135.75h6.91v6.92h-6.91zM487.00 142.67h6.91v6.92h-6.91zM500.81 156.50h6.91v6.92h-6.91zM687.30 163.42h6.91v6.92h-6.91zM728.74 170.33h6.91v6.92h-6.91zM749.47 170.33h13.81v6.92h-13.81zM673.49 177.25h6.91v6.92h-6.91zM721.84 177.25h6.91v6.92h-6.91zM680.40 184.17h6.91v6.92h-6.91zM742.56 184.17h6.91v6.92h-6.91z"/>
<path fill="#18a068" d="M583.70 32.00h6.91v6.92h-6.91zM645.86 32.00h13.81v6.92h-13.81zM576.79 38.92h6.91v6.92h-6.91zM590.60 38.92h6.91v6.92h-6.91zM777.09 38.92h6.91v6.92h-6.91zM556.07 45.83h6.91v6.92h-6.91zM597.51 45.83h6.91v6.92h-6.91zM777.09 45.83h6.91v6.92h-6.91zM569.88 52.75h6.91v6.92h-6.91zM604.42 52.75h6.91v6.92h-6.91zM549.16 59.67h6.91v6.92h-6.91zM562.98 59.67h20.72v6.92h-20.72zM590.60 59.67h6.91v6.92h-6.91zM763.28 59.67h13.81v6.92h-13.81zM569.88 66.58h6.91v6.92h-6.91zM763.28 66.58h13.81v6.92h-13.81zM756.37 73.50h6.91v6.92h-6.91zM763.28 80.42h6.91v6.92h-6.91zM728.74 94.25h6.91v6.92h-6.91zM742.56 94.25h13.81v6.92h-13.81zM687.30 101.17h6.91v6.92h-6.91zM742.56 101.17h13.81v6.92h-13.81zM763.28 101.17h6.91v6.92h-6.91zM763.28 108.08h13.81v6.92h-13.81zM763.28 115.00h6.91v6.92h-6.91zM701.12 121.92h6.91v6.92h-6.91zM714.93 121.92h6.91v6.92h-6.91zM694.21 128.83h6.91v6.92h-6.91zM721.84 128.83h6.91v6.92h-6.91zM687.30 135.75h13.81v6.92h-13.81zM562.98 156.50h6.91v6.92h-6.91zM680.40 163.42h6.91v6.92h-6.91zM694.21 163.42h6.91v6.92h-6.91zM694.21 170.33h6.91v6.92h-6.91zM742.56 170.33h6.91v6.92h-6.91zM714.93 177.25h6.91v6.92h-6.91zM673.49 184.17h6.91v6.92h-6.91zM687.30 184.17h6.91v6.92h-6.91zM728.74 184.17h6.91v6.92h-6.91z"/>
<path fill="#68b858" d="M590.60 32.00h6.91v6.92h-6.91zM638.95 32.00h6.91v6.92h-6.91zM666.58 32.00h6.91v6.92h-6.91zM569.88 38.92h6.91v6.92h-6.91zM562.98 45.83h6.91v6.92h-6.91zM756.37 45.83h6.91v6.92h-6.91zM749.47 52.75h6.91v6.92h-6.91zM749.47 59.67h6.91v6.92h-6.91zM583.70 66.58h6.91v6.92h-6.91zM749.47 66.58h6.91v6.92h-6.91zM777.09 66.58h6.91v6.92h-6.91zM749.47 73.50h6.91v6.92h-6.91zM763.28 73.50h6.91v6.92h-6.91zM735.65 80.42h13.81v6.92h-13.81zM625.14 87.33h13.81v6.92h-13.81zM714.93 87.33h6.91v6.92h-6.91zM756.37 94.25h6.91v6.92h-6.91zM742.56 108.08h6.91v6.92h-6.91zM749.47 121.92h6.91v6.92h-6.91zM673.49 128.83h6.91v6.92h-6.91zM701.12 128.83h13.81v6.92h-13.81zM673.49 135.75h6.91v6.92h-6.91zM673.49 142.67h6.91v6.92h-6.91zM714.93 142.67h6.91v6.92h-6.91zM701.12 149.58h20.72v6.92h-20.72zM701.12 163.42h6.91v6.92h-6.91zM721.84 170.33h6.91v6.92h-6.91zM701.12 177.25h6.91v6.92h-6.91zM673.49 191.08h6.91v6.92h-6.91z"/>
<path fill="#f0dc38" d="M597.51 32.00h6.91v6.92h-6.91zM714.93 32.00h6.91v6.92h-6.91zM687.30 38.92h27.63v6.92h-27.63zM687.30 45.83h6.91v6.92h-6.91zM701.12 45.83h13.81v6.92h-13.81zM749.47 45.83h6.91v6.92h-6.91zM680.40 52.75h6.91v6.92h-6.91zM728.74 52.75h6.91v6.92h-6.91zM673.49 59.67h6.91v6.92h-6.91zM666.58 66.58h6.91v6.92h-6.91zM735.65 66.58h6.91v6.92h-6.91zM687.30 73.50h6.91v6.92h-6.91zM728.74 73.50h6.91v6.92h-6.91zM680.40 80.42h6.91v6.92h-6.91zM701.12 80.42h6.91v6.92h-6.91zM701.12 87.33h6.91v6.92h-6.91zM659.67 101.17h6.91v6.92h-6.91zM701.12 135.75h6.91v6.92h-6.91zM673.49 149.58h6.91v6.92h-6.91zM721.84 149.58h6.91v6.92h-6.91zM749.47 149.58h6.91v6.92h-6.91zM597.51 191.08h6.91v6.92h-6.91z"/>
<path fill="#cc726a" d="M604.42 32.00h6.91v6.92h-6.91z"/>
<path fill="#e0486b" d="M611.33 32.00h6.91v6.92h-6.91z"/>
<path fill="#e83850" d="M618.23 32.00h6.91v6.92h-6.91z"/>
<path fill="#eed12e" d="M625.14 32.00h6.91v6.92h-6.91zM708.02 32.00h6.91v6.92h-6.91zM604.42 38.92h6.91v6.92h-6.91zM694.21 45.83h6.91v6.92h-6.91zM728.74 45.83h6.91v6.92h-6.91zM701.12 52.75h6.91v6.92h-6.91zM735.65 52.75h6.91v6.92h-6.91zM680.40 59.67h6.91v6.92h-6.91zM701.12 59.67h6.91v6.92h-6.91zM694.21 66.58h6.91v6.92h-6.91zM680.40 73.50h6.91v6.92h-6.91zM659.67 94.25h20.72v6.92h-20.72zM687.30 149.58h6.91v6.92h-6.91zM673.49 156.50h6.91v6.92h-6.91zM708.02 170.33h6.91v6.92h-6.91zM632.05 184.17h6.91v6.92h-6.91z"/>
<path fill="#bcd348" d="M632.05 32.00h6.91v6.92h-6.91zM597.51 38.92h6.91v6.92h-6.91zM673.49 38.92h6.91v6.92h-6.91zM673.49 45.83h6.91v6.92h-6.91zM721.84 45.83h6.91v6.92h-6.91zM666.58 52.75h6.91v6.92h-6.91zM632.05 80.42h6.91v6.92h-6.91zM680.40 87.33h6.91v6.92h-6.91zM632.05 94.25h6.91v6.92h-6.91zM576.79 101.17h6.91v6.92h-6.91zM632.05 101.17h6.91v6.92h-6.91zM632.05 115.00h6.91v6.92h-6.91zM652.77 115.00h6.91v6.92h-6.91zM763.28 128.83h6.91v6.92h-6.91zM777.09 128.83h6.91v6.92h-6.91zM777.09 135.75h6.91v6.92h-6.91zM701.12 156.50h6.91v6.92h-6.91zM597.51 177.25h6.91v6.92h-6.91zM618.23 177.25h13.81v6.92h-13.81zM652.77 177.25h6.91v6.92h-6.91zM645.86 191.08h13.81v6.92h-13.81z"/>
<path fill="#38aa62" d="M659.67 32.00h6.91v6.92h-6.91zM542.26 38.92h6.91v6.92h-6.91zM604.42 45.83h13.81v6.92h-13.81zM763.28 45.83h6.91v6.92h-6.91zM549.16 52.75h20.72v6.92h-20.72zM756.37 52.75h6.91v6.92h-6.91zM777.09 52.75h6.91v6.92h-6.91zM583.70 59.67h6.91v6.92h-6.91zM632.05 66.58h6.91v6.92h-6.91zM625.14 80.42h6.91v6.92h-6.91zM749.47 80.42h6.91v6.92h-6.91zM742.56 87.33h6.91v6.92h-6.91zM763.28 87.33h13.81v6.92h-13.81zM714.93 94.25h6.91v6.92h-6.91zM777.09 94.25h6.91v6.92h-6.91zM583.70 101.17h6.91v6.92h-6.91zM680.40 101.17h6.91v6.92h-6.91zM735.65 101.17h6.91v6.92h-6.91zM680.40 108.08h6.91v6.92h-6.91zM735.65 108.08h6.91v6.92h-6.91zM777.09 108.08h6.91v6.92h-6.91zM735.65 115.00h6.91v6.92h-6.91zM777.09 115.00h6.91v6.92h-6.91zM666.58 121.92h13.81v6.92h-13.81zM728.74 121.92h6.91v6.92h-6.91zM756.37 121.92h6.91v6.92h-6.91zM770.19 121.92h6.91v6.92h-6.91zM680.40 128.83h6.91v6.92h-6.91zM714.93 128.83h6.91v6.92h-6.91zM756.37 128.83h6.91v6.92h-6.91zM583.70 149.58h13.81v6.92h-13.81zM583.70 156.50h6.91v6.92h-6.91zM694.21 156.50h6.91v6.92h-6.91zM556.07 163.42h20.72v6.92h-20.72zM562.98 170.33h6.91v6.92h-6.91zM694.21 177.25h6.91v6.92h-6.91zM535.35 191.08h6.91v6.92h-6.91zM549.16 191.08h6.91v6.92h-6.91zM694.21 191.08h6.91v6.92h-6.91zM735.65 191.08h6.91v6.92h-6.91z"/>
<path fill="#e5de3e" d="M673.49 32.00h6.91v6.92h-6.91zM714.93 38.92h6.91v6.92h-6.91zM714.93 45.83h6.91v6.92h-6.91zM673.49 52.75h6.91v6.92h-6.91zM708.02 52.75h6.91v6.92h-6.91zM742.56 52.75h6.91v6.92h-6.91zM666.58 59.67h6.91v6.92h-6.91zM701.12 66.58h6.91v6.92h-6.91zM728.74 66.58h6.91v6.92h-6.91zM694.21 73.50h6.91v6.92h-6.91zM687.30 80.42h6.91v6.92h-6.91zM708.02 87.33h6.91v6.92h-6.91zM625.14 101.17h6.91v6.92h-6.91zM666.58 101.17h6.91v6.92h-6.91zM659.67 108.08h13.81v6.92h-13.81zM701.12 142.67h6.91v6.92h-6.91zM721.84 156.50h6.91v6.92h-6.91zM708.02 163.42h13.81v6.92h-13.81z"/>
<path fill="#eaaf16" d="M680.40 32.00h6.91v6.92h-6.91zM694.21 32.00h6.91v6.92h-6.91zM659.67 87.33h13.81v6.92h-13.81z"/>
<path fill="#e48c08" d="M687.30 32.00h6.91v6.92h-6.91z"/>
<path fill="#ecc020" d="M701.12 32.00h6.91v6.92h-6.91zM735.65 45.83h6.91v6.92h-6.91zM652.77 94.25h6.91v6.92h-6.91zM749.47 135.75h6.91v6.92h-6.91zM742.56 142.67h6.91v6.92h-6.91zM735.65 149.58h6.91v6.92h-6.91zM721.84 163.42h6.91v6.92h-6.91z"/>
<path fill="#88c252" d="M721.84 32.00h6.91v6.92h-6.91zM659.67 38.92h6.91v6.92h-6.91zM659.67 45.83h6.91v6.92h-6.91zM659.67 52.75h6.91v6.92h-6.91zM659.67 59.67h6.91v6.92h-6.91zM659.67 66.58h6.91v6.92h-6.91zM701.12 73.50h6.91v6.92h-6.91zM742.56 73.50h6.91v6.92h-6.91zM645.86 80.42h6.91v6.92h-6.91zM714.93 80.42h13.81v6.92h-13.81zM694.21 87.33h6.91v6.92h-6.91zM756.37 87.33h6.91v6.92h-6.91zM687.30 94.25h6.91v6.92h-6.91zM749.47 115.00h6.91v6.92h-6.91zM742.56 121.92h6.91v6.92h-6.91zM597.51 135.75h13.81v6.92h-13.81zM645.86 142.67h6.91v6.92h-6.91zM694.21 142.67h6.91v6.92h-6.91zM708.02 156.50h13.81v6.92h-13.81zM749.47 156.50h6.91v6.92h-6.91zM673.49 163.42h6.91v6.92h-6.91zM597.51 170.33h13.81v6.92h-13.81zM625.14 170.33h6.91v6.92h-6.91zM659.67 170.33h13.81v6.92h-13.81zM590.60 177.25h6.91v6.92h-6.91zM708.02 177.25h6.91v6.92h-6.91zM735.65 184.17h6.91v6.92h-6.91zM680.40 191.08h6.91v6.92h-6.91z"/>
<path fill="#cbd745" d="M728.74 32.00h6.91v6.92h-6.91zM728.74 38.92h6.91v6.92h-6.91zM749.47 38.92h6.91v6.92h-6.91zM721.84 59.67h20.72v6.92h-20.72zM714.93 66.58h13.81v6.92h-13.81zM742.56 66.58h6.91v6.92h-6.91zM659.67 73.50h6.91v6.92h-6.91zM708.02 73.50h20.72v6.92h-20.72zM735.65 73.50h6.91v6.92h-6.91zM694.21 80.42h6.91v6.92h-6.91zM708.02 80.42h6.91v6.92h-6.91zM618.23 115.00h6.91v6.92h-6.91zM708.02 135.75h6.91v6.92h-6.91zM708.02 142.67h6.91v6.92h-6.91zM777.09 142.67h6.91v6.92h-6.91zM687.30 156.50h6.91v6.92h-6.91zM638.95 163.42h13.81v6.92h-13.81zM638.95 170.33h6.91v6.92h-6.91zM611.33 177.25h6.91v6.92h-6.91zM638.95 177.25h6.91v6.92h-6.91zM687.30 191.08h6.91v6.92h-6.91z"/>
<path fill="#aacd4b" d="M735.65 32.00h6.91v6.92h-6.91zM721.84 52.75h6.91v6.92h-6.91zM742.56 59.67h6.91v6.92h-6.91zM638.95 80.42h6.91v6.92h-6.91zM728.74 80.42h6.91v6.92h-6.91zM687.30 87.33h6.91v6.92h-6.91zM638.95 94.25h6.91v6.92h-6.91zM680.40 94.25h6.91v6.92h-6.91zM638.95 101.17h6.91v6.92h-6.91zM632.05 108.08h6.91v6.92h-6.91zM742.56 115.00h6.91v6.92h-6.91zM638.95 121.92h13.81v6.92h-13.81zM625.14 142.67h6.91v6.92h-6.91zM735.65 142.67h6.91v6.92h-6.91zM645.86 149.58h6.91v6.92h-6.91zM694.21 149.58h6.91v6.92h-6.91zM632.05 163.42h6.91v6.92h-6.91zM549.16 170.33h6.91v6.92h-6.91zM632.05 170.33h6.91v6.92h-6.91zM645.86 170.33h6.91v6.92h-6.91zM659.67 191.08h6.91v6.92h-6.91z"/>
<path fill="#99c74e" d="M742.56 32.00h6.91v6.92h-6.91zM562.98 38.92h6.91v6.92h-6.91zM666.58 38.92h6.91v6.92h-6.91zM721.84 38.92h6.91v6.92h-6.91zM666.58 45.83h6.91v6.92h-6.91zM576.79 66.58h6.91v6.92h-6.91zM708.02 66.58h6.91v6.92h-6.91zM638.95 73.50h6.91v6.92h-6.91zM777.09 73.50h6.91v6.92h-6.91zM777.09 80.42h6.91v6.92h-6.91zM777.09 87.33h6.91v6.92h-6.91zM694.21 94.25h6.91v6.92h-6.91zM673.49 101.17h6.91v6.92h-6.91zM576.79 108.08h6.91v6.92h-6.91zM673.49 108.08h6.91v6.92h-6.91zM659.67 115.00h6.91v6.92h-6.91zM652.77 121.92h6.91v6.92h-6.91zM625.14 128.83h20.72v6.92h-20.72zM625.14 135.75h6.91v6.92h-6.91zM638.95 135.75h6.91v6.92h-6.91zM680.40 142.67h6.91v6.92h-6.91zM728.74 142.67h6.91v6.92h-6.91zM625.14 149.58h6.91v6.92h-6.91zM583.70 177.25h6.91v6.92h-6.91zM645.86 184.17h20.72v6.92h-20.72zM542.26 191.08h6.91v6.92h-6.91zM666.58 191.08h6.91v6.92h-6.91z"/>
<path fill="#48ae5e" d="M749.47 32.00h6.91v6.92h-6.91zM542.26 45.83h6.91v6.92h-6.91zM569.88 45.83h6.91v6.92h-6.91zM777.09 59.67h6.91v6.92h-6.91zM770.19 73.50h6.91v6.92h-6.91zM756.37 80.42h6.91v6.92h-6.91zM770.19 80.42h6.91v6.92h-6.91zM721.84 87.33h20.72v6.92h-20.72zM749.47 87.33h6.91v6.92h-6.91zM735.65 94.25h6.91v6.92h-6.91zM763.28 94.25h6.91v6.92h-6.91zM694.21 101.17h6.91v6.92h-6.91zM777.09 101.17h6.91v6.92h-6.91zM749.47 108.08h13.81v6.92h-13.81zM756.37 115.00h6.91v6.92h-6.91zM735.65 121.92h6.91v6.92h-6.91zM763.28 121.92h6.91v6.92h-6.91zM680.40 135.75h6.91v6.92h-6.91zM714.93 135.75h6.91v6.92h-6.91zM687.30 142.67h6.91v6.92h-6.91zM701.12 170.33h6.91v6.92h-6.91zM735.65 170.33h6.91v6.92h-6.91z"/>
<path fill="#008a8e" d="M770.19 32.00h6.91v6.92h-6.91zM521.53 38.92h13.81v6.92h-13.81zM770.19 38.92h6.91v6.92h-6.91zM521.53 45.83h13.81v6.92h-13.81zM521.53 52.75h13.81v6.92h-13.81zM521.53 59.67h6.91v6.92h-6.91zM521.53 115.00h6.91v6.92h-6.91zM680.40 170.33h6.91v6.92h-6.91zM500.81 177.25h6.91v6.92h-6.91zM749.47 184.17h6.91v6.92h-6.91zM701.12 191.08h6.91v6.92h-6.91z"/>
<path fill="#059a75" d="M583.70 38.92h6.91v6.92h-6.91zM576.79 45.83h6.91v6.92h-6.91zM576.79 52.75h27.63v6.92h-27.63zM763.28 52.75h13.81v6.92h-13.81zM756.37 59.67h6.91v6.92h-6.91zM556.07 66.58h13.81v6.92h-13.81zM590.60 66.58h6.91v6.92h-6.91zM770.19 94.25h6.91v6.92h-6.91zM542.26 115.00h6.91v6.92h-6.91zM673.49 170.33h6.91v6.92h-6.91zM728.74 191.08h6.91v6.92h-6.91z"/>
<path fill="#df7608" d="M611.33 38.92h6.91v6.92h-6.91z"/>
<path fill="#efd633" d="M618.23 38.92h6.91v6.92h-6.91zM645.86 115.00h6.91v6.92h-6.91zM625.14 121.92h6.91v6.92h-6.91zM756.37 135.75h6.91v6.92h-6.91zM770.19 135.75h6.91v6.92h-6.91zM632.05 149.58h6.91v6.92h-6.91zM728.74 156.50h6.91v6.92h-6.91zM576.79 184.17h6.91v6.92h-6.91zM618.23 184.17h6.91v6.92h-6.91zM604.42 191.08h6.91v6.92h-6.91zM625.14 191.08h13.81v6.92h-13.81z"/>
<path fill="#dadc42" d="M625.14 38.92h6.91v6.92h-6.91zM680.40 38.92h6.91v6.92h-6.91zM680.40 45.83h6.91v6.92h-6.91zM714.93 52.75h6.91v6.92h-6.91zM708.02 59.67h13.81v6.92h-13.81zM625.14 94.25h6.91v6.92h-6.91zM493.91 101.17h6.91v6.92h-6.91zM618.23 101.17h6.91v6.92h-6.91zM618.23 108.08h6.91v6.92h-6.91zM638.95 108.08h6.91v6.92h-6.91zM770.19 128.83h6.91v6.92h-6.91zM638.95 142.67h6.91v6.92h-6.91zM576.79 177.25h6.91v6.92h-6.91zM583.70 184.17h6.91v6.92h-6.91zM611.33 184.17h6.91v6.92h-6.91zM611.33 191.08h6.91v6.92h-6.91zM638.95 191.08h6.91v6.92h-6.91z"/>
<path fill="#58b35b" d="M632.05 38.92h6.91v6.92h-6.91zM652.77 38.92h6.91v6.92h-6.91zM652.77 45.83h6.91v6.92h-6.91zM652.77 52.75h6.91v6.92h-6.91zM645.86 59.67h13.81v6.92h-13.81zM645.86 66.58h13.81v6.92h-13.81zM652.77 73.50h6.91v6.92h-6.91zM638.95 87.33h6.91v6.92h-6.91zM576.79 94.25h6.91v6.92h-6.91zM701.12 94.25h13.81v6.92h-13.81zM487.00 101.17h6.91v6.92h-6.91zM611.33 108.08h6.91v6.92h-6.91zM576.79 115.00h6.91v6.92h-6.91zM611.33 115.00h6.91v6.92h-6.91zM673.49 115.00h6.91v6.92h-6.91zM604.42 121.92h6.91v6.92h-6.91zM659.67 121.92h6.91v6.92h-6.91zM590.60 135.75h6.91v6.92h-6.91zM611.33 135.75h6.91v6.92h-6.91zM645.86 135.75h13.81v6.92h-13.81zM590.60 142.67h27.63v6.92h-27.63zM652.77 142.67h6.91v6.92h-6.91zM597.51 149.58h13.81v6.92h-13.81zM770.19 149.58h6.91v6.92h-6.91zM597.51 156.50h27.63v6.92h-27.63zM659.67 156.50h6.91v6.92h-6.91zM770.19 156.50h6.91v6.92h-6.91zM583.70 163.42h13.81v6.92h-13.81zM666.58 163.42h6.91v6.92h-6.91zM576.79 170.33h6.91v6.92h-6.91zM611.33 170.33h13.81v6.92h-13.81z"/>
<path fill="#0e9d6e" d="M638.95 38.92h13.81v6.92h-13.81zM618.23 45.83h6.91v6.92h-6.91zM638.95 52.75h6.91v6.92h-6.91zM625.14 59.67h13.81v6.92h-13.81zM549.16 66.58h6.91v6.92h-6.91zM618.23 66.58h13.81v6.92h-13.81zM625.14 73.50h6.91v6.92h-6.91zM576.79 80.42h6.91v6.92h-6.91zM549.16 87.33h6.91v6.92h-6.91zM583.70 94.25h6.91v6.92h-6.91zM611.33 94.25h6.91v6.92h-6.91zM721.84 94.25h6.91v6.92h-6.91zM535.35 101.17h6.91v6.92h-6.91zM604.42 101.17h6.91v6.92h-6.91zM714.93 101.17h6.91v6.92h-6.91zM556.07 108.08h6.91v6.92h-6.91zM590.60 108.08h20.72v6.92h-20.72zM507.72 115.00h6.91v6.92h-6.91zM569.88 115.00h6.91v6.92h-6.91zM597.51 115.00h6.91v6.92h-6.91zM680.40 115.00h6.91v6.92h-6.91zM493.91 121.92h6.91v6.92h-6.91zM576.79 121.92h6.91v6.92h-6.91zM590.60 121.92h6.91v6.92h-6.91zM680.40 121.92h6.91v6.92h-6.91zM493.91 142.67h6.91v6.92h-6.91zM666.58 142.67h6.91v6.92h-6.91zM493.91 149.58h6.91v6.92h-6.91zM569.88 149.58h13.81v6.92h-13.81zM777.09 149.58h6.91v6.92h-6.91zM493.91 156.50h6.91v6.92h-6.91zM487.00 170.33h6.91v6.92h-6.91zM569.88 170.33h6.91v6.92h-6.91zM562.98 177.25h13.81v6.92h-13.81zM549.16 184.17h6.91v6.92h-6.91zM562.98 184.17h13.81v6.92h-13.81zM562.98 191.08h13.81v6.92h-13.81z"/>
<path fill="#edc625" d="M735.65 38.92h13.81v6.92h-13.81zM687.30 66.58h6.91v6.92h-6.91zM666.58 73.50h13.81v6.92h-13.81zM659.67 80.42h6.91v6.92h-6.91zM673.49 80.42h6.91v6.92h-6.91zM673.49 87.33h6.91v6.92h-6.91zM770.19 142.67h6.91v6.92h-6.91zM742.56 149.58h6.91v6.92h-6.91zM638.95 156.50h6.91v6.92h-6.91zM680.40 156.50h6.91v6.92h-6.91zM714.93 170.33h6.91v6.92h-6.91zM659.67 177.25h6.91v6.92h-6.91z"/>
<path fill="#008197" d="M507.72 45.83h6.91v6.92h-6.91zM500.81 52.75h13.81v6.92h-13.81zM507.72 59.67h6.91v6.92h-6.91zM493.91 66.58h20.72v6.92h-20.72zM487.00 73.50h6.91v6.92h-6.91zM507.72 73.50h13.81v6.92h-13.81zM487.00 87.33h6.91v6.92h-6.91zM514.63 87.33h6.91v6.92h-6.91zM514.63 94.25h6.91v6.92h-6.91zM514.63 101.17h6.91v6.92h-6.91zM576.79 128.83h6.91v6.92h-6.91zM542.26 142.67h6.91v6.92h-6.91zM528.44 149.58h6.91v6.92h-6.91zM562.98 149.58h6.91v6.92h-6.91zM528.44 156.50h6.91v6.92h-6.91zM521.53 163.42h13.81v6.92h-13.81zM535.35 170.33h6.91v6.92h-6.91zM535.35 177.25h6.91v6.92h-6.91zM521.53 184.17h6.91v6.92h-6.91zM528.44 191.08h6.91v6.92h-6.91zM708.02 191.08h6.91v6.92h-6.91z"/>
<path fill="#00947f" d="M625.14 45.83h20.72v6.92h-20.72zM618.23 52.75h20.72v6.92h-20.72zM618.23 59.67h6.91v6.92h-6.91zM576.79 73.50h6.91v6.92h-6.91zM597.51 73.50h6.91v6.92h-6.91zM549.16 80.42h6.91v6.92h-6.91zM569.88 80.42h6.91v6.92h-6.91zM597.51 80.42h6.91v6.92h-6.91zM542.26 87.33h6.91v6.92h-6.91zM562.98 87.33h13.81v6.92h-13.81zM493.91 94.25h6.91v6.92h-6.91zM528.44 94.25h6.91v6.92h-6.91zM590.60 94.25h20.72v6.92h-20.72zM708.02 101.17h6.91v6.92h-6.91zM500.81 108.08h13.81v6.92h-13.81zM701.12 108.08h6.91v6.92h-6.91zM487.00 115.00h6.91v6.92h-6.91zM500.81 115.00h6.91v6.92h-6.91zM528.44 115.00h6.91v6.92h-6.91zM701.12 115.00h6.91v6.92h-6.91zM487.00 121.92h6.91v6.92h-6.91zM521.53 121.92h6.91v6.92h-6.91zM556.07 121.92h6.91v6.92h-6.91zM487.00 128.83h6.91v6.92h-6.91zM500.81 128.83h6.91v6.92h-6.91zM500.81 135.75h6.91v6.92h-6.91zM500.81 142.67h6.91v6.92h-6.91zM514.63 142.67h13.81v6.92h-13.81zM500.81 149.58h13.81v6.92h-13.81zM507.72 156.50h6.91v6.92h-6.91zM493.91 163.42h6.91v6.92h-6.91zM549.16 163.42h6.91v6.92h-6.91zM542.26 184.17h6.91v6.92h-6.91z"/>
<path fill="#28a565" d="M645.86 45.83h6.91v6.92h-6.91zM645.86 52.75h6.91v6.92h-6.91zM638.95 59.67h6.91v6.92h-6.91zM583.70 80.42h6.91v6.92h-6.91zM576.79 87.33h13.81v6.92h-13.81zM618.23 87.33h6.91v6.92h-6.91zM562.98 101.17h6.91v6.92h-6.91zM611.33 101.17h6.91v6.92h-6.91zM701.12 101.17h6.91v6.92h-6.91zM728.74 101.17h6.91v6.92h-6.91zM493.91 108.08h6.91v6.92h-6.91zM583.70 108.08h6.91v6.92h-6.91zM728.74 108.08h6.91v6.92h-6.91zM583.70 115.00h13.81v6.92h-13.81zM604.42 115.00h6.91v6.92h-6.91zM728.74 115.00h6.91v6.92h-6.91zM770.19 115.00h6.91v6.92h-6.91zM597.51 121.92h6.91v6.92h-6.91zM708.02 121.92h6.91v6.92h-6.91zM721.84 121.92h6.91v6.92h-6.91zM590.60 128.83h6.91v6.92h-6.91zM659.67 128.83h13.81v6.92h-13.81zM742.56 128.83h13.81v6.92h-13.81zM618.23 135.75h6.91v6.92h-6.91zM659.67 135.75h13.81v6.92h-13.81zM728.74 135.75h13.81v6.92h-13.81zM583.70 142.67h6.91v6.92h-6.91zM659.67 142.67h6.91v6.92h-6.91zM611.33 149.58h6.91v6.92h-6.91zM666.58 149.58h6.91v6.92h-6.91zM569.88 156.50h13.81v6.92h-13.81zM590.60 156.50h6.91v6.92h-6.91zM777.09 156.50h6.91v6.92h-6.91zM576.79 163.42h6.91v6.92h-6.91zM756.37 163.42h13.81v6.92h-13.81zM549.16 177.25h13.81v6.92h-13.81zM556.07 184.17h6.91v6.92h-6.91zM556.07 191.08h6.91v6.92h-6.91z"/>
<path fill="#eab51a" d="M742.56 45.83h6.91v6.92h-6.91zM666.58 80.42h6.91v6.92h-6.91zM645.86 101.17h6.91v6.92h-6.91zM632.05 156.50h6.91v6.92h-6.91z"/>
<path fill="#eecb2a" d="M687.30 52.75h13.81v6.92h-13.81zM687.30 59.67h13.81v6.92h-13.81zM673.49 66.58h6.91v6.92h-6.91zM652.77 101.17h6.91v6.92h-6.91zM652.77 108.08h6.91v6.92h-6.91zM763.28 135.75h6.91v6.92h-6.91zM756.37 142.67h13.81v6.92h-13.81zM742.56 156.50h6.91v6.92h-6.91z"/>
<path fill="#0279a1" d="M500.81 59.67h6.91v6.92h-6.91zM569.88 128.83h6.91v6.92h-6.91zM569.88 135.75h6.91v6.92h-6.91zM549.16 142.67h6.91v6.92h-6.91zM542.26 149.58h20.72v6.92h-20.72zM507.72 184.17h6.91v6.92h-6.91z"/>
<path fill="#008e89" d="M521.53 66.58h27.63v6.92h-27.63zM542.26 73.50h6.91v6.92h-6.91zM604.42 73.50h13.81v6.92h-13.81zM500.81 80.42h13.81v6.92h-13.81zM535.35 80.42h13.81v6.92h-13.81zM556.07 80.42h13.81v6.92h-13.81zM604.42 80.42h13.81v6.92h-13.81zM556.07 87.33h6.91v6.92h-6.91zM597.51 87.33h13.81v6.92h-13.81zM487.00 94.25h6.91v6.92h-6.91zM535.35 94.25h6.91v6.92h-6.91zM507.72 101.17h6.91v6.92h-6.91zM528.44 101.17h6.91v6.92h-6.91zM708.02 108.08h6.91v6.92h-6.91zM562.98 121.92h6.91v6.92h-6.91zM507.72 128.83h6.91v6.92h-6.91zM507.72 135.75h6.91v6.92h-6.91zM576.79 135.75h6.91v6.92h-6.91zM507.72 142.67h6.91v6.92h-6.91zM528.44 142.67h6.91v6.92h-6.91zM576.79 142.67h6.91v6.92h-6.91zM514.63 149.58h6.91v6.92h-6.91zM514.63 156.50h6.91v6.92h-6.91zM556.07 156.50h6.91v6.92h-6.91zM500.81 163.42h13.81v6.92h-13.81zM770.19 163.42h6.91v6.92h-6.91zM493.91 170.33h6.91v6.92h-6.91zM493.91 177.25h6.91v6.92h-6.91zM493.91 184.17h6.91v6.92h-6.91zM535.35 184.17h6.91v6.92h-6.91z"/>
<path fill="#78bd55" d="M638.95 66.58h6.91v6.92h-6.91zM632.05 73.50h6.91v6.92h-6.91zM645.86 73.50h6.91v6.92h-6.91zM652.77 80.42h6.91v6.92h-6.91zM645.86 87.33h6.91v6.92h-6.91zM618.23 94.25h6.91v6.92h-6.91zM666.58 115.00h6.91v6.92h-6.91zM611.33 121.92h6.91v6.92h-6.91zM777.09 121.92h6.91v6.92h-6.91zM597.51 128.83h27.63v6.92h-27.63zM645.86 128.83h13.81v6.92h-13.81zM618.23 142.67h6.91v6.92h-6.91zM618.23 149.58h6.91v6.92h-6.91zM652.77 149.58h6.91v6.92h-6.91zM625.14 156.50h6.91v6.92h-6.91zM652.77 156.50h6.91v6.92h-6.91zM666.58 156.50h6.91v6.92h-6.91zM597.51 163.42h34.53v6.92h-34.53zM652.77 163.42h6.91v6.92h-6.91zM556.07 170.33h6.91v6.92h-6.91zM583.70 170.33h13.81v6.92h-13.81zM652.77 170.33h6.91v6.92h-6.91zM645.86 177.25h6.91v6.92h-6.91zM666.58 177.25h6.91v6.92h-6.91zM666.58 184.17h6.91v6.92h-6.91zM576.79 191.08h13.81v6.92h-13.81z"/>
<path fill="#ebba1d" d="M680.40 66.58h6.91v6.92h-6.91zM680.40 149.58h6.91v6.92h-6.91z"/>
<path fill="#eadd3b" d="M652.77 87.33h6.91v6.92h-6.91zM645.86 94.25h6.91v6.92h-6.91zM569.88 101.17h6.91v6.92h-6.91zM562.98 108.08h13.81v6.92h-13.81zM625.14 108.08h6.91v6.92h-6.91zM625.14 115.00h6.91v6.92h-6.91zM638.95 115.00h6.91v6.92h-6.91zM618.23 121.92h6.91v6.92h-6.91zM632.05 121.92h6.91v6.92h-6.91zM632.05 135.75h6.91v6.92h-6.91zM742.56 135.75h6.91v6.92h-6.91zM632.05 142.67h6.91v6.92h-6.91zM638.95 149.58h6.91v6.92h-6.91zM645.86 156.50h6.91v6.92h-6.91zM728.74 163.42h6.91v6.92h-6.91zM604.42 177.25h6.91v6.92h-6.91zM632.05 177.25h6.91v6.92h-6.91zM604.42 184.17h6.91v6.92h-6.91zM625.14 184.17h6.91v6.92h-6.91zM638.95 184.17h6.91v6.92h-6.91zM618.23 191.08h6.91v6.92h-6.91z"/>
<path fill="#00957d" d="M562.98 94.25h6.91v6.92h-6.91zM535.35 108.08h13.81v6.92h-13.81zM549.16 115.00h6.91v6.92h-6.91zM514.63 121.92h6.91v6.92h-6.91z"/>
<path fill="#4eb05d" d="M569.88 94.25h6.91v6.92h-6.91zM659.67 149.58h6.91v6.92h-6.91zM659.67 163.42h6.91v6.92h-6.91z"/>
<path fill="#099b72" d="M514.63 108.08h6.91v6.92h-6.91zM549.16 121.92h6.91v6.92h-6.91z"/>
<path fill="#009382" d="M521.53 108.08h6.91v6.92h-6.91zM514.63 115.00h6.91v6.92h-6.91zM528.44 128.83h20.72v6.92h-20.72z"/>
<path fill="#008c8c" d="M528.44 108.08h6.91v6.92h-6.91zM549.16 108.08h6.91v6.92h-6.91zM514.63 128.83h6.91v6.92h-6.91zM549.16 128.83h6.91v6.92h-6.91zM514.63 135.75h20.72v6.92h-20.72z"/>
<path fill="#e9aa13" d="M645.86 108.08h6.91v6.92h-6.91zM728.74 149.58h6.91v6.92h-6.91zM735.65 163.42h6.91v6.92h-6.91z"/>
<path fill="#008c8b" d="M714.93 108.08h6.91v6.92h-6.91z"/>
<path fill="#0a9b72" d="M535.35 115.00h6.91v6.92h-6.91zM721.84 115.00h6.91v6.92h-6.91z"/>
<path fill="#129e6c" d="M528.44 121.92h20.72v6.92h-20.72z"/>
<path fill="#009185" d="M521.53 128.83h6.91v6.92h-6.91z"/>
<path fill="#20a266" d="M728.74 128.83h13.81v6.92h-13.81zM721.84 135.75h6.91v6.92h-6.91z"/>
<path fill="#008395" d="M535.35 135.75h6.91v6.92h-6.91z"/>
<path fill="#007e9a" d="M542.26 135.75h6.91v6.92h-6.91z"/>
<path fill="#017a9f" d="M549.16 135.75h6.91v6.92h-6.91z"/>
<path fill="#0376a6" d="M556.07 135.75h6.91v6.92h-6.91zM535.35 163.42h6.91v6.92h-6.91zM514.63 170.33h13.81v6.92h-13.81zM507.72 191.08h20.72v6.92h-20.72z"/>
<path fill="#0672af" d="M562.98 135.75h6.91v6.92h-6.91zM777.09 163.42h6.91v6.92h-6.91zM487.00 191.08h6.91v6.92h-6.91z"/>
<path fill="#50b15d" d="M721.84 142.67h6.91v6.92h-6.91z"/>
<path fill="#e79f0e" d="M749.47 142.67h6.91v6.92h-6.91zM735.65 156.50h6.91v6.92h-6.91z"/>
<path fill="#1ea267" d="M487.00 149.58h6.91v6.92h-6.91z"/>
<path fill="#90c450" d="M756.37 149.58h6.91v6.92h-6.91z"/>
<path fill="#70ba56" d="M763.28 149.58h6.91v6.92h-6.91z"/>
<path fill="#5eb55a" d="M487.00 156.50h6.91v6.92h-6.91z"/>
<path fill="#5bb45b" d="M756.37 156.50h6.91v6.92h-6.91z"/>
<path fill="#60b65a" d="M763.28 156.50h6.91v6.92h-6.91z"/>
<path fill="#3eac60" d="M487.00 163.42h6.91v6.92h-6.91z"/>
<path fill="#eece2c" d="M742.56 163.42h6.91v6.92h-6.91z"/>
<path fill="#40ac60" d="M749.47 163.42h6.91v6.92h-6.91z"/>
<path fill="#007d9b" d="M528.44 170.33h6.91v6.92h-6.91z"/>
<path fill="#1276ba" d="M777.09 170.33h6.91v6.92h-6.91zM749.47 191.08h6.91v6.92h-6.91z"/>
<path fill="#167abe" d="M770.19 177.25h6.91v6.92h-6.91zM763.28 184.17h6.91v6.92h-6.91z"/>
<path fill="#1b7fc3" d="M777.09 177.25h6.91v6.92h-6.91zM770.19 184.17h6.91v6.92h-6.91z"/>
<path fill="#d1d944" d="M590.60 184.17h6.91v6.92h-6.91z"/>
<path fill="#e7dd3d" d="M597.51 184.17h6.91v6.92h-6.91z"/>
<path fill="#1da167" d="M694.21 184.17h13.81v6.92h-13.81z"/>
<path fill="#009383" d="M708.02 184.17h6.91v6.92h-6.91z"/>
<path fill="#0870b4" d="M756.37 184.17h6.91v6.92h-6.91z"/>
<path fill="#3897d6" d="M777.09 184.17h6.91v6.92h-6.91z"/>
<path fill="#b1cf4a" d="M590.60 191.08h6.91v6.92h-6.91z"/>
<path fill="#2084c8" d="M756.37 191.08h6.91v6.92h-6.91z"/>
<path fill="#288acd" d="M763.28 191.08h6.91v6.92h-6.91z"/>
<path fill="#3091d2" d="M770.19 191.08h6.91v6.92h-6.91z"/>
<path fill="#48a4e0" d="M777.09 191.08h6.91v6.92h-6.91z"/><path fill="#e7e7e7" d="M37.00 312.00h283.19v6.95h-283.19zM37.00 318.95h131.23v6.95h-131.23zM209.67 318.95h110.51v6.95h-110.51zM37.00 325.90h131.23v6.95h-131.23zM209.67 325.90h110.51v6.95h-110.51zM37.00 332.85h41.44v6.95h-41.44zM92.26 332.85h55.26v6.95h-55.26zM161.33 332.85h6.91v6.95h-6.91zM209.67 332.85h110.51v6.95h-110.51zM37.00 339.80h34.53v6.95h-34.53zM92.26 339.80h55.26v6.95h-55.26zM161.33 339.80h6.91v6.95h-6.91zM209.67 339.80h124.33v6.95h-124.33zM43.91 346.75h20.72v6.95h-20.72zM106.07 346.75h62.16v6.95h-62.16zM209.67 346.75h124.33v6.95h-124.33zM209.67 353.70h124.33v6.95h-124.33zM175.14 360.65h13.81v6.95h-13.81zM209.67 360.65h124.33v6.95h-124.33zM175.14 367.60h13.81v6.95h-13.81zM209.67 367.60h124.33v6.95h-124.33zM175.14 374.55h13.81v6.95h-13.81zM209.67 374.55h41.44v6.95h-41.44zM278.74 374.55h55.26v6.95h-55.26zM175.14 381.50h13.81v6.95h-13.81zM209.67 381.50h41.44v6.95h-41.44zM278.74 381.50h55.26v6.95h-55.26zM209.67 388.45h41.44v6.95h-41.44zM278.74 388.45h55.26v6.95h-55.26zM237.30 395.40h13.81v6.95h-13.81zM278.74 395.40h41.44v6.95h-41.44zM237.30 402.35h27.63v6.95h-27.63zM271.84 402.35h48.35v6.95h-48.35zM251.12 409.30h27.63v6.95h-27.63zM37.00 416.25h6.91v6.95h-6.91zM251.12 416.25h20.72v6.95h-20.72zM37.00 423.20h6.91v6.95h-6.91zM251.12 423.20h20.72v6.95h-20.72zM223.49 430.15h55.26v6.95h-55.26zM112.98 437.10h6.91v6.95h-6.91zM223.49 437.10h55.26v6.95h-55.26zM223.49 444.05h48.35v6.95h-48.35zM292.56 451.00h41.44v6.95h-41.44zM50.81 457.95h6.91v6.95h-6.91zM292.56 457.95h41.44v6.95h-41.44zM50.81 464.90h6.91v6.95h-6.91zM64.63 464.90h6.91v6.95h-6.91zM292.56 464.90h41.44v6.95h-41.44zM292.56 471.85h41.44v6.95h-41.44z"/>
<path fill="#e7e6da" d="M320.19 312.00h13.81v6.95h-13.81zM168.23 318.95h41.44v6.95h-41.44zM320.19 318.95h13.81v6.95h-13.81zM168.23 325.90h41.44v6.95h-41.44zM320.19 325.90h13.81v6.95h-13.81zM78.44 332.85h13.81v6.95h-13.81zM147.51 332.85h13.81v6.95h-13.81zM168.23 332.85h41.44v6.95h-41.44zM320.19 332.85h13.81v6.95h-13.81zM71.53 339.80h20.72v6.95h-20.72zM147.51 339.80h13.81v6.95h-13.81zM168.23 339.80h41.44v6.95h-41.44zM37.00 346.75h6.91v6.95h-6.91zM64.63 346.75h41.44v6.95h-41.44zM168.23 346.75h41.44v6.95h-41.44zM37.00 353.70h27.63v6.95h-27.63zM92.26 353.70h117.42v6.95h-117.42zM37.00 360.65h27.63v6.95h-27.63zM92.26 360.65h82.88v6.95h-82.88zM188.95 360.65h20.72v6.95h-20.72zM37.00 367.60h27.63v6.95h-27.63zM92.26 367.60h20.72v6.95h-20.72zM133.70 367.60h41.44v6.95h-41.44zM188.95 367.60h20.72v6.95h-20.72zM37.00 374.55h20.72v6.95h-20.72zM133.70 374.55h41.44v6.95h-41.44zM188.95 374.55h20.72v6.95h-20.72zM251.12 374.55h27.63v6.95h-27.63zM37.00 381.50h20.72v6.95h-20.72zM133.70 381.50h41.44v6.95h-41.44zM188.95 381.50h20.72v6.95h-20.72zM251.12 381.50h27.63v6.95h-27.63zM37.00 388.45h20.72v6.95h-20.72zM119.88 388.45h89.79v6.95h-89.79zM251.12 388.45h6.91v6.95h-6.91zM37.00 395.40h13.81v6.95h-13.81zM119.88 395.40h103.60v6.95h-103.60zM251.12 395.40h6.91v6.95h-6.91zM320.19 395.40h13.81v6.95h-13.81zM37.00 402.35h13.81v6.95h-13.81zM119.88 402.35h103.60v6.95h-103.60zM37.00 409.30h13.81v6.95h-13.81zM119.88 409.30h131.23v6.95h-131.23zM292.56 409.30h41.44v6.95h-41.44zM43.91 416.25h6.91v6.95h-6.91zM119.88 416.25h55.26v6.95h-55.26zM182.05 416.25h69.07v6.95h-69.07zM278.74 416.25h55.26v6.95h-55.26zM43.91 423.20h13.81v6.95h-13.81zM119.88 423.20h41.44v6.95h-41.44zM168.23 423.20h82.88v6.95h-82.88zM278.74 423.20h27.63v6.95h-27.63zM313.28 423.20h20.72v6.95h-20.72zM50.81 430.15h158.86v6.95h-158.86zM216.58 430.15h6.91v6.95h-6.91zM278.74 430.15h27.63v6.95h-27.63zM320.19 430.15h13.81v6.95h-13.81zM50.81 437.10h62.16v6.95h-62.16zM119.88 437.10h103.60v6.95h-103.60zM278.74 437.10h13.81v6.95h-13.81zM320.19 437.10h13.81v6.95h-13.81zM50.81 444.05h27.63v6.95h-27.63zM85.35 444.05h124.33v6.95h-124.33zM216.58 444.05h6.91v6.95h-6.91zM271.84 444.05h20.72v6.95h-20.72zM313.28 444.05h20.72v6.95h-20.72zM37.00 451.00h41.44v6.95h-41.44zM85.35 451.00h207.21v6.95h-207.21zM37.00 457.95h13.81v6.95h-13.81zM57.72 457.95h234.84v6.95h-234.84zM37.00 464.90h13.81v6.95h-13.81zM57.72 464.90h6.91v6.95h-6.91zM71.53 464.90h69.07v6.95h-69.07zM154.42 464.90h89.79v6.95h-89.79zM264.93 464.90h27.63v6.95h-27.63zM37.00 471.85h103.60v6.95h-103.60zM154.42 471.85h13.81v6.95h-13.81zM175.14 471.85h117.42v6.95h-117.42z"/>
<path fill="#e8e6d0" d="M64.63 353.70h27.63v6.95h-27.63zM64.63 360.65h27.63v6.95h-27.63zM64.63 367.60h27.63v6.95h-27.63zM112.98 367.60h20.72v6.95h-20.72zM57.72 374.55h55.26v6.95h-55.26zM126.79 374.55h6.91v6.95h-6.91zM57.72 381.50h75.98v6.95h-75.98zM57.72 388.45h6.91v6.95h-6.91zM106.07 388.45h13.81v6.95h-13.81zM258.02 388.45h6.91v6.95h-6.91zM271.84 388.45h6.91v6.95h-6.91zM50.81 395.40h13.81v6.95h-13.81zM78.44 395.40h6.91v6.95h-6.91zM106.07 395.40h13.81v6.95h-13.81zM223.49 395.40h13.81v6.95h-13.81zM258.02 395.40h6.91v6.95h-6.91zM50.81 402.35h13.81v6.95h-13.81zM106.07 402.35h13.81v6.95h-13.81zM223.49 402.35h13.81v6.95h-13.81zM264.93 402.35h6.91v6.95h-6.91zM320.19 402.35h13.81v6.95h-13.81zM50.81 409.30h13.81v6.95h-13.81zM106.07 409.30h13.81v6.95h-13.81zM50.81 416.25h13.81v6.95h-13.81zM106.07 416.25h13.81v6.95h-13.81zM175.14 416.25h6.91v6.95h-6.91zM57.72 423.20h62.16v6.95h-62.16zM161.33 423.20h6.91v6.95h-6.91zM306.37 423.20h6.91v6.95h-6.91zM43.91 430.15h6.91v6.95h-6.91zM43.91 437.10h6.91v6.95h-6.91zM43.91 444.05h6.91v6.95h-6.91zM78.44 444.05h6.91v6.95h-6.91zM306.37 444.05h6.91v6.95h-6.91zM168.23 471.85h6.91v6.95h-6.91z"/>
<path fill="#e9e5c3" d="M112.98 374.55h13.81v6.95h-13.81zM64.63 388.45h41.44v6.95h-41.44zM264.93 388.45h6.91v6.95h-6.91zM64.63 395.40h6.91v6.95h-6.91zM85.35 395.40h6.91v6.95h-6.91zM99.16 395.40h6.91v6.95h-6.91zM271.84 395.40h6.91v6.95h-6.91zM64.63 402.35h6.91v6.95h-6.91zM78.44 402.35h27.63v6.95h-27.63zM64.63 409.30h6.91v6.95h-6.91zM78.44 409.30h6.91v6.95h-6.91zM92.26 409.30h13.81v6.95h-13.81zM278.74 409.30h13.81v6.95h-13.81zM64.63 416.25h41.44v6.95h-41.44zM271.84 416.25h6.91v6.95h-6.91zM271.84 423.20h6.91v6.95h-6.91zM37.00 430.15h6.91v6.95h-6.91zM209.67 430.15h6.91v6.95h-6.91zM209.67 444.05h6.91v6.95h-6.91zM292.56 444.05h6.91v6.95h-6.91zM78.44 451.00h6.91v6.95h-6.91zM140.60 464.90h13.81v6.95h-13.81zM244.21 464.90h20.72v6.95h-20.72zM140.60 471.85h6.91v6.95h-6.91z"/>
<path fill="#ebe5b5" d="M71.53 395.40h6.91v6.95h-6.91zM92.26 395.40h6.91v6.95h-6.91zM71.53 402.35h6.91v6.95h-6.91zM71.53 409.30h6.91v6.95h-6.91zM292.56 437.10h6.91v6.95h-6.91zM147.51 471.85h6.91v6.95h-6.91z"/>
<path fill="#ede39d" d="M264.93 395.40h6.91v6.95h-6.91zM299.47 437.10h6.91v6.95h-6.91z"/>
<path fill="#ece4a8" d="M85.35 409.30h6.91v6.95h-6.91zM313.28 430.15h6.91v6.95h-6.91zM37.00 437.10h6.91v6.95h-6.91zM313.28 437.10h6.91v6.95h-6.91zM37.00 444.05h6.91v6.95h-6.91zM299.47 444.05h6.91v6.95h-6.91z"/>
<path fill="#f2e440" d="M306.37 430.15h6.91v6.95h-6.91z"/>
<path fill="#f1d936" d="M306.37 437.10h6.91v6.95h-6.91z"/><path fill="#e7e7e7" d="M487.00 312.00h297.00v6.95h-297.00zM487.00 318.95h297.00v6.95h-297.00zM487.00 325.90h297.00v6.95h-297.00zM487.00 332.85h297.00v6.95h-297.00zM487.00 339.80h297.00v6.95h-297.00zM487.00 346.75h27.63v6.95h-27.63zM549.16 346.75h234.84v6.95h-234.84zM549.16 353.70h234.84v6.95h-234.84zM500.81 360.65h13.81v6.95h-13.81zM549.16 360.65h234.84v6.95h-234.84zM549.16 367.60h13.81v6.95h-13.81zM583.70 367.60h200.30v6.95h-200.30zM487.00 374.55h13.81v6.95h-13.81zM583.70 374.55h200.30v6.95h-200.30zM487.00 381.50h13.81v6.95h-13.81zM583.70 381.50h200.30v6.95h-200.30zM569.88 388.45h138.14v6.95h-138.14zM728.74 388.45h55.26v6.95h-55.26zM583.70 395.40h82.88v6.95h-82.88zM687.30 395.40h20.72v6.95h-20.72zM728.74 395.40h41.44v6.95h-41.44zM583.70 402.35h89.79v6.95h-89.79zM687.30 402.35h27.63v6.95h-27.63zM721.84 402.35h48.35v6.95h-48.35zM583.70 409.30h145.05v6.95h-145.05zM742.56 409.30h41.44v6.95h-41.44zM487.00 416.25h6.91v6.95h-6.91zM583.70 416.25h41.44v6.95h-41.44zM632.05 416.25h89.79v6.95h-89.79zM728.74 416.25h55.26v6.95h-55.26zM487.00 423.20h6.91v6.95h-6.91zM583.70 423.20h27.63v6.95h-27.63zM618.23 423.20h103.60v6.95h-103.60zM728.74 423.20h55.26v6.95h-55.26zM500.81 430.15h20.72v6.95h-20.72zM569.88 430.15h89.79v6.95h-89.79zM666.58 430.15h89.79v6.95h-89.79zM770.19 430.15h13.81v6.95h-13.81zM500.81 437.10h20.72v6.95h-20.72zM556.07 437.10h186.49v6.95h-186.49zM770.19 437.10h13.81v6.95h-13.81zM500.81 444.05h13.81v6.95h-13.81zM549.16 444.05h110.51v6.95h-110.51zM666.58 444.05h75.98v6.95h-75.98zM763.28 444.05h13.81v6.95h-13.81zM487.00 451.00h13.81v6.95h-13.81zM549.16 451.00h234.84v6.95h-234.84zM493.91 457.95h13.81v6.95h-13.81zM549.16 457.95h234.84v6.95h-234.84zM493.91 464.90h13.81v6.95h-13.81zM514.63 464.90h6.91v6.95h-6.91zM535.35 464.90h55.26v6.95h-55.26zM604.42 464.90h89.79v6.95h-89.79zM714.93 464.90h69.07v6.95h-69.07zM542.26 471.85h48.35v6.95h-48.35zM604.42 471.85h13.81v6.95h-13.81zM625.14 471.85h158.86v6.95h-158.86z"/>
<path fill="#e7e6da" d="M514.63 346.75h34.53v6.95h-34.53zM487.00 353.70h62.16v6.95h-62.16zM487.00 360.65h13.81v6.95h-13.81zM514.63 360.65h34.53v6.95h-34.53zM487.00 367.60h62.16v6.95h-62.16zM562.98 367.60h20.72v6.95h-20.72zM500.81 374.55h62.16v6.95h-62.16zM569.88 374.55h13.81v6.95h-13.81zM500.81 381.50h82.88v6.95h-82.88zM487.00 388.45h27.63v6.95h-27.63zM556.07 388.45h13.81v6.95h-13.81zM708.02 388.45h6.91v6.95h-6.91zM721.84 388.45h6.91v6.95h-6.91zM487.00 395.40h27.63v6.95h-27.63zM528.44 395.40h13.81v6.95h-13.81zM556.07 395.40h27.63v6.95h-27.63zM666.58 395.40h20.72v6.95h-20.72zM708.02 395.40h6.91v6.95h-6.91zM721.84 395.40h6.91v6.95h-6.91zM770.19 395.40h13.81v6.95h-13.81zM487.00 402.35h27.63v6.95h-27.63zM556.07 402.35h27.63v6.95h-27.63zM673.49 402.35h13.81v6.95h-13.81zM714.93 402.35h6.91v6.95h-6.91zM770.19 402.35h13.81v6.95h-13.81zM487.00 409.30h27.63v6.95h-27.63zM556.07 409.30h27.63v6.95h-27.63zM728.74 409.30h13.81v6.95h-13.81zM493.91 416.25h20.72v6.95h-20.72zM569.88 416.25h13.81v6.95h-13.81zM625.14 416.25h6.91v6.95h-6.91zM721.84 416.25h6.91v6.95h-6.91zM493.91 423.20h55.26v6.95h-55.26zM569.88 423.20h13.81v6.95h-13.81zM611.33 423.20h6.91v6.95h-6.91zM721.84 423.20h6.91v6.95h-6.91zM487.00 430.15h13.81v6.95h-13.81zM521.53 430.15h48.35v6.95h-48.35zM659.67 430.15h6.91v6.95h-6.91zM493.91 437.10h6.91v6.95h-6.91zM521.53 437.10h34.53v6.95h-34.53zM742.56 437.10h6.91v6.95h-6.91zM493.91 444.05h6.91v6.95h-6.91zM514.63 444.05h34.53v6.95h-34.53zM659.67 444.05h6.91v6.95h-6.91zM742.56 444.05h6.91v6.95h-6.91zM756.37 444.05h6.91v6.95h-6.91zM777.09 444.05h6.91v6.95h-6.91zM500.81 451.00h27.63v6.95h-27.63zM535.35 451.00h13.81v6.95h-13.81zM487.00 457.95h6.91v6.95h-6.91zM507.72 457.95h41.44v6.95h-41.44zM487.00 464.90h6.91v6.95h-6.91zM507.72 464.90h6.91v6.95h-6.91zM521.53 464.90h13.81v6.95h-13.81zM590.60 464.90h13.81v6.95h-13.81zM487.00 471.85h55.26v6.95h-55.26zM590.60 471.85h13.81v6.95h-13.81zM618.23 471.85h6.91v6.95h-6.91z"/>
<path fill="#e8e6d0" d="M562.98 374.55h6.91v6.95h-6.91zM514.63 388.45h41.44v6.95h-41.44zM714.93 388.45h6.91v6.95h-6.91zM514.63 395.40h13.81v6.95h-13.81zM542.26 395.40h13.81v6.95h-13.81zM514.63 402.35h41.44v6.95h-41.44zM514.63 409.30h20.72v6.95h-20.72zM542.26 409.30h13.81v6.95h-13.81zM514.63 416.25h55.26v6.95h-55.26zM549.16 423.20h20.72v6.95h-20.72zM763.28 430.15h6.91v6.95h-6.91zM487.00 437.10h6.91v6.95h-6.91zM763.28 437.10h6.91v6.95h-6.91zM749.47 444.05h6.91v6.95h-6.91zM528.44 451.00h6.91v6.95h-6.91zM694.21 464.90h20.72v6.95h-20.72z"/>
<path fill="#e9e5c3" d="M714.93 395.40h6.91v6.95h-6.91zM535.35 409.30h6.91v6.95h-6.91zM749.47 437.10h6.91v6.95h-6.91zM487.00 444.05h6.91v6.95h-6.91z"/>
<path fill="#eee292" d="M756.37 430.15h6.91v6.95h-6.91z"/>
<path fill="#efe17b" d="M756.37 437.10h6.91v6.95h-6.91z"/></g>
<defs><g id="bord"><path d="M108.2 29.4L109.3 30.8L110.2 32.2L111.8 33.2L113.0 34.4L114.1 36.1L115.4 37.3L116.9 38.3L117.6 39.6L117.8 41.1L117.5 42.8L117.2 44.4L116.6 45.6L115.8 46.7L115.5 48.4L114.7 50.0L113.6 50.8L112.4 51.7L111.1 52.5L109.5 52.8L108.0 53.3L106.4 54.0L104.7 54.1L104.2 55.5L103.3 56.7L104.1 58.9L105.3 60.0L106.3 61.1L106.9 63.3L105.9 64.9L105.2 66.7L104.9 68.1L104.1 69.4L103.1 70.4L101.9 71.1L99.7 71.9L98.9 73.9L98.9 75.3L99.1 76.7L98.6 78.0L98.7 79.4L98.8 81.1L99.1 82.8L99.4 84.2L99.2 85.6L99.7 87.0 M108.2 29.4L109.7 30.2L116.9 30.0L128.0 29.2 M28.6 73.9L39.1 74.2L55.8 73.9L72.4 73.1L83.6 72.6L94.4 71.7L95.6 72.6L96.3 73.9L97.0 75.1L98.0 76.1L99.1 76.7 M28.6 73.9L29.7 75.6L30.3 76.9L30.8 78.3L31.8 79.3L32.4 80.6L33.7 81.8L34.7 83.3L35.3 84.5L35.6 85.9L36.3 87.0 M153.0 29.4L153.6 30.8L153.8 32.2L154.4 33.4L155.0 34.5L155.8 35.6L156.4 36.8L156.9 38.2L157.4 39.4L158.5 41.0L159.1 42.8L160.4 43.4L161.3 44.4L163.6 45.0L164.9 44.3L166.3 43.9L167.5 43.2L168.5 42.4L169.7 41.7L171.0 40.5L172.4 39.4L173.3 37.8L174.1 36.1L174.6 34.4L175.2 32.8L175.5 31.1L176.1 29.4 M159.4 43.9L160.2 52.8L161.3 63.9L162.4 75.0L163.6 87.0 M172.4 40.0L183.6 38.3L201.3 36.1L212.4 34.8L223.0 33.3 M225.8 29.4L224.6 30.1L223.6 31.1L223.0 33.3L224.0 34.3L225.2 35.0L226.7 35.4L228.0 36.1 M201.3 36.1L203.6 52.8L205.8 69.4L208.2 87.0 M228.0 36.1L230.2 37.2L231.9 38.6L233.2 38.6L234.5 38.6L235.8 38.6L237.4 39.2L239.1 39.4L240.3 38.8L241.3 37.9L242.4 37.2L244.2 36.7L245.8 35.6L247.2 35.1L248.7 35.1L250.2 35.0L251.4 34.2L252.3 33.0L253.6 32.2L254.7 30.8L255.8 29.4 M269.4 29.4L271.9 41.7L274.1 55.0L276.7 68.9 M276.7 68.9L293.6 66.1L305.8 63.3L316.9 60.6L328.0 58.0 M271.9 50.0L270.8 51.1L271.3 52.8L272.8 52.2L273.0 50.6L271.9 50.0 M272.8 52.2L272.9 53.8L272.3 55.3L272.1 56.8L272.1 58.3L271.9 59.7L271.5 61.1L271.6 62.5L271.3 63.9L271.2 65.3L271.2 66.7L271.1 68.1L271.1 69.4L270.8 71.7L269.9 72.8L268.8 73.7L268.0 75.0L266.9 75.9L266.2 77.2L265.2 78.3L263.8 78.5L262.4 78.9L261.5 79.9L260.2 80.6L259.3 81.9L258.6 83.3L258.1 85.1L257.8 87.0 M326.9 58.9L342.1 55.0 M293.6 66.1L293.4 67.4L293.7 68.6L294.3 69.8L294.3 71.1L294.7 72.5L294.8 73.9L295.5 75.2L295.4 76.7L296.3 75.5L297.1 74.3L298.0 73.2L299.1 72.2L300.0 71.1L301.4 70.5L302.4 69.4L303.0 68.0L303.8 66.8L304.7 65.6L306.3 67.2L307.6 67.0L309.0 67.1L310.2 66.7L310.8 64.4L313.0 63.3L315.2 62.8L316.7 62.7L318.2 63.1L319.7 63.3L320.3 64.6L320.8 66.0L321.6 67.2L322.4 68.3L324.1 69.2L325.8 69.4L327.4 70.6L328.0 71.7L329.2 72.4L330.6 72.6L331.9 73.3L333.2 73.7L334.4 74.1 M313.0 67.8L314.3 68.3L315.5 69.1L316.9 69.4L318.0 70.4L319.5 70.6L320.7 71.3L321.9 72.2L322.3 70.5L323.0 68.9L322.4 68.3 M313.0 67.8L313.0 69.3L312.7 70.8L312.5 72.4L312.4 73.9L311.8 75.4L311.2 77.0L310.2 78.3L309.5 79.5L308.8 80.6L308.0 81.7L306.9 83.9L304.7 82.8L304.3 84.2L303.6 85.5L303.6 87.0 M28.6 87.6L36.9 87.6 M36.9 87.6L39.1 88.7L40.5 89.1L41.9 89.2L42.7 90.3L43.6 91.4L42.4 93.1L41.6 94.2L40.8 95.3L40.2 97.6L41.2 99.0L42.4 100.3L43.4 101.3L43.7 102.7L44.7 103.7L45.9 104.2L47.2 104.6L48.6 104.8L48.8 120.3L49.1 149.0 M99.1 87.0L100.1 88.5L101.3 89.8L102.5 90.7L103.6 91.7L104.8 92.5L105.8 93.7L106.8 94.7L108.2 95.4L109.3 96.4L110.2 97.6L111.3 98.7L112.2 100.0L113.0 101.4L113.3 102.7L113.7 104.0L113.6 105.3L114.6 106.3L115.2 107.6L116.5 106.8L118.0 106.4L119.4 106.2L120.8 106.4L121.7 107.5L122.4 108.7L122.7 110.0L122.1 111.2L122.2 112.6L121.4 114.2L120.8 115.9L120.3 117.6L119.3 119.2L119.9 120.6L120.2 122.0L121.4 123.0L122.5 124.2L123.6 125.3L124.8 125.8L125.7 126.9L126.7 127.7L128.0 128.1 M163.6 87.0L163.7 88.5L163.7 90.0L163.8 91.4L163.8 92.9L163.5 94.3L163.0 95.6L162.7 97.0L163.5 98.4L163.8 100.0L164.7 101.4L165.4 102.8L166.1 104.3L166.3 105.9L165.3 107.2L164.8 108.8L164.1 110.3L163.6 111.9L162.6 113.3L161.9 114.8L161.3 116.1L160.2 117.0L159.4 118.1L159.0 119.6L158.8 121.0L158.9 122.6L158.6 123.9L158.6 125.3L159.7 126.4 M159.7 125.9L161.3 124.2L162.8 123.7L164.3 123.4L165.8 123.1L167.3 123.0L168.7 123.5L170.2 123.4L171.7 124.1L173.1 124.9L174.7 125.3L175.3 124.2L176.0 123.0L176.9 122.0L178.4 121.6L179.7 120.9L180.9 122.2L182.4 123.1L183.2 121.9L183.7 120.6L184.1 119.2L185.0 118.2L185.7 117.1L186.3 115.9L187.6 117.2L188.6 118.7L190.2 119.1L191.9 119.4L192.9 118.2L194.1 117.0L194.2 115.6L194.6 114.3L195.2 113.1L196.0 111.7L196.9 110.4L198.0 109.2L198.8 108.0L199.7 106.8L200.2 105.3L200.7 103.7L201.3 102.0L203.1 101.7L204.7 100.9L206.2 100.8L207.7 100.4L209.1 99.8L210.2 97.6L209.8 96.3L209.3 95.0L209.1 93.7L209.7 92.6 M208.2 87.0L208.9 92.6 M209.7 92.6L211.1 92.7L212.4 93.1L214.0 92.4L215.8 92.0L217.0 93.0L218.0 94.2L218.7 95.4L219.3 96.6L220.2 97.6L221.9 98.0L223.6 98.1L225.0 98.8L226.5 99.5L228.0 100.1 M159.1 126.4L158.4 127.8L158.0 129.2L157.4 131.4L158.6 133.7L157.3 134.5L155.8 134.8L154.3 135.5L153.0 136.4L152.9 137.9L153.3 139.2L153.3 140.9L153.6 142.6L151.9 142.1L150.2 142.0L148.5 141.2L146.9 140.3L145.3 140.8L143.6 140.9L142.3 142.2L141.3 143.7L140.2 145.3 M128.0 128.1L129.7 128.6L131.3 129.2L132.1 130.3L133.0 131.3L134.1 132.0L134.7 133.3L135.3 134.6L135.8 135.9L135.9 137.4L136.4 138.9L136.9 140.3L137.6 141.5L138.2 142.8L138.6 144.2L140.8 145.3L142.4 147.0L143.0 149.0 M184.7 148.7L205.8 146.4L228.0 144.2 M228.0 100.1L229.0 99.3L230.4 99.0L231.3 98.1L232.8 98.7L234.4 98.6L235.8 99.2L237.5 98.6L239.1 97.6L240.4 97.0L241.3 95.9L242.2 96.9L243.3 97.7L244.1 98.7L245.2 99.6L246.5 100.3L247.4 101.4L248.6 102.0 M248.6 102.0L250.1 100.9L251.9 100.3L252.5 99.1L252.7 97.8L253.0 96.4L253.0 95.1L253.3 93.9L253.0 92.6L253.5 91.2L254.3 90.1L254.7 88.7L256.1 88.6L257.4 88.1L258.0 89.8L259.1 88.1L259.7 87.0 M248.6 102.0L248.7 103.3L248.6 104.5L248.5 105.8L248.3 107.0L249.1 108.2L249.5 109.6L250.2 110.9L251.2 111.8L251.9 112.8L252.9 113.7L253.6 114.8L254.5 116.1L255.8 116.9L256.9 118.1L258.2 118.6L259.5 119.3L260.8 119.8 M260.8 119.8L259.6 120.6L258.9 121.8L257.7 122.5L256.9 123.7L255.8 124.6L254.7 125.6L253.5 126.6L252.4 127.6L251.9 129.0L250.8 130.1L250.1 131.4L249.1 132.6L248.5 133.7L247.3 134.4L246.8 135.6L245.8 136.4L244.7 137.4L243.5 138.3L242.4 139.3L241.3 140.3L240.1 141.1L238.8 141.7L237.6 142.4L236.3 143.1 M260.8 119.8L261.6 121.2L262.8 122.2L263.6 123.7L264.8 124.3L266.2 124.6L267.4 125.3L268.7 124.3L270.1 123.6L271.3 122.6L273.0 122.8L274.7 123.1L276.2 122.4L277.7 121.8L279.1 120.9L280.2 119.9L280.8 118.7L282.0 118.1L283.3 117.6L284.5 117.0L285.8 116.4L287.2 115.6L288.6 114.8L289.1 112.6L289.0 110.9L288.6 109.2L289.2 108.1L290.0 107.0L290.6 105.9L291.3 104.8L293.6 98.1L294.2 96.7L294.4 95.2L294.7 93.7L295.2 92.3L295.2 90.9L296.4 91.7L297.9 91.9L299.1 92.6L300.5 92.3L301.9 92.0L302.6 90.8L302.9 89.6L302.9 88.2L303.6 87.0 M228.0 144.8L236.3 143.1L250.2 140.9L269.1 137.8L289.1 134.8L311.3 130.9L328.0 127.9 M269.1 137.8L269.6 139.0L269.7 140.3L269.1 142.0L268.6 143.7L267.6 145.0L266.3 145.9L265.9 147.5L265.2 149.0 M323.6 128.7L342.1 125.1 M339.7 108.7L342.1 108.7 M28.6 151.0L49.1 150.1 M49.1 149.0L49.3 161.2 M49.3 161.2L72.4 160.7L94.7 159.6L116.9 158.1L125.8 157.3L126.8 158.6L127.4 160.1L123.0 168.4L124.2 168.7L125.5 168.9L126.7 169.1L128.0 169.0 M49.3 161.2L51.9 174.6L53.8 184.6L53.8 201.2 M126.3 190.1L124.7 193.4L122.4 196.8L121.9 201.2 M143.0 149.0L143.6 151.2L142.9 152.7L141.9 154.0L139.7 154.6L139.1 156.8L136.9 156.2L137.0 157.9L137.4 159.6L136.6 160.6L136.2 161.9L135.2 162.9L135.2 164.2L135.3 165.5L135.8 166.8L135.4 168.5L134.7 170.1L133.3 171.3L132.4 172.9L132.1 174.2L131.7 175.5L131.3 176.8L130.3 177.7L129.7 178.9L129.1 180.1L129.3 181.6L129.2 183.1L129.1 184.6L128.9 185.9L128.8 187.2L128.6 188.4 M128.0 169.0L134.1 167.9 M141.3 156.6L161.3 154.0L161.3 151.8L172.4 150.7L188.0 149.0 M128.0 190.1L144.7 188.4L162.4 186.8L183.6 184.6L207.4 182.1L228.0 179.0 M163.3 186.8L163.8 201.2 M207.4 182.1L210.2 192.3L213.0 201.2 M265.2 149.0L264.0 149.6L262.7 149.9L261.3 150.1L260.1 150.9L259.3 152.2L258.0 152.9L256.6 152.6L255.2 152.3L254.4 153.7L253.6 155.1L252.3 156.2L250.8 156.8L249.9 157.8L248.9 158.6L248.0 159.6L246.9 160.5L246.0 161.6L244.7 162.3L243.4 162.8L242.3 163.7L241.3 164.6L240.0 164.6L238.8 165.5L237.4 165.7L236.4 166.7L235.4 167.7L234.1 168.4L233.4 169.7L233.1 171.1L232.4 172.3L231.2 173.4L229.7 174.0L229.6 175.3L229.1 176.5L229.0 177.7L229.1 179.0 M228.0 179.2L249.1 176.0 M249.1 176.0L261.3 169.6L272.4 167.9L285.2 166.2 M285.2 166.2L286.4 166.8L287.6 167.5L288.6 168.4L289.3 170.0L290.4 171.2L291.3 172.6L309.7 169.2L328.0 181.8 M249.1 176.0L248.3 177.3L247.9 178.9L246.9 180.1L246.3 182.3L247.8 183.0L248.9 184.3L250.2 185.1L251.6 185.5L253.1 185.7L254.3 186.6L255.8 186.8L256.4 187.9L256.9 189.1L258.0 190.0L258.2 191.3L259.1 192.3L260.2 193.1L260.6 194.4L261.6 195.2L262.4 196.2L264.0 196.9L265.4 197.7L266.9 198.4L267.8 199.6L269.2 200.2L270.2 201.2 M309.7 169.2L333.0 185.1 M333.0 185.1L336.9 183.4L341.9 182.7" fill="none" stroke="#000" stroke-width="0.85" stroke-linejoin="round"/>
<path d="M336.4 75.7L335.9 78.6L334.4 82.1L335.0 85.7L337.1 86.9L338.6 84.3L340.0 87.1L342.0 86.4 M338.6 90.7L342.0 91.1 M333.6 87.0L336.9 87.6 M338.0 90.9L341.9 91.4 M340.2 87.0L341.9 89.8 M323.1 199.9L324.2 200.8 M127.4 180.4L128.0 181.2" fill="none" stroke="#000" stroke-width="1.45" stroke-linejoin="round" stroke-linecap="round"/>
<path d="M335.1 73.7L336.6 74.3L336.3 75.4L334.9 75.1L335.1 73.7 M341.6 65.2L341.6 66.3 M230.2 39.3L233.0 38.2L234.5 36.3L232.2 37.8L235.0 37.4L235.8 38.1 M333.0 185.1L329.7 189.0L326.9 193.4L324.7 197.3L323.6 200.3 M341.8 178.1L341.8 180.3" fill="none" stroke="#000" stroke-width="0.9" stroke-linejoin="round"/></g>
<clipPath id="cp"><rect x="28.5" y="28.5" width="313.6" height="173"/></clipPath></defs>
<g clip-path="url(#cp)"><use href="#bord"/></g>
<g transform="translate(450,0)"><g clip-path="url(#cp)"><use href="#bord"/></g></g>
<g transform="translate(0,280.0)"><g clip-path="url(#cp)"><use href="#bord"/></g></g>
<g transform="translate(450,280.0)"><g clip-path="url(#cp)"><use href="#bord"/></g></g>

<rect x="28.5" y="28.5" width="313.5" height="173.0" fill="none" stroke="#000" stroke-width="1"/>
<line x1="37.90" y1="201.5" x2="37.90" y2="207.5" stroke="#000"/>
<text x="37.90" y="222.8" font-size="10.2" text-anchor="middle">-95.5</text>
<line x1="74.80" y1="201.5" x2="74.80" y2="207.5" stroke="#000"/>
<text x="74.80" y="222.8" font-size="10.2" text-anchor="middle">-93.5</text>
<line x1="111.70" y1="201.5" x2="111.70" y2="207.5" stroke="#000"/>
<text x="111.70" y="222.8" font-size="10.2" text-anchor="middle">-91.5</text>
<line x1="148.60" y1="201.5" x2="148.60" y2="207.5" stroke="#000"/>
<text x="148.60" y="222.8" font-size="10.2" text-anchor="middle">-89.5</text>
<line x1="185.50" y1="201.5" x2="185.50" y2="207.5" stroke="#000"/>
<text x="185.50" y="222.8" font-size="10.2" text-anchor="middle">-87.5</text>
<line x1="222.40" y1="201.5" x2="222.40" y2="207.5" stroke="#000"/>
<text x="222.40" y="222.8" font-size="10.2" text-anchor="middle">-85.5</text>
<line x1="259.30" y1="201.5" x2="259.30" y2="207.5" stroke="#000"/>
<text x="259.30" y="222.8" font-size="10.2" text-anchor="middle">-83.5</text>
<line x1="296.20" y1="201.5" x2="296.20" y2="207.5" stroke="#000"/>
<text x="296.20" y="222.8" font-size="10.2" text-anchor="middle">-81.5</text>
<line x1="333.10" y1="201.5" x2="333.10" y2="207.5" stroke="#000"/>
<text x="333.10" y="222.8" font-size="10.2" text-anchor="middle">-79.5</text>
<line x1="22.5" y1="199.70" x2="28.5" y2="199.70" stroke="#000"/>
<text transform="translate(13.8,200.10) rotate(-90)" font-size="10.2" text-anchor="middle">34.5</text>
<line x1="22.5" y1="157.15" x2="28.5" y2="157.15" stroke="#000"/>
<text transform="translate(13.8,157.55) rotate(-90)" font-size="10.2" text-anchor="middle">36.5</text>
<line x1="22.5" y1="114.60" x2="28.5" y2="114.60" stroke="#000"/>
<text transform="translate(13.8,115.00) rotate(-90)" font-size="10.2" text-anchor="middle">38.5</text>
<line x1="22.5" y1="72.05" x2="28.5" y2="72.05" stroke="#000"/>
<text transform="translate(13.8,72.45) rotate(-90)" font-size="10.2" text-anchor="middle">40.5</text>
<line x1="22.5" y1="29.50" x2="28.5" y2="29.50" stroke="#000"/>
<text transform="translate(13.8,29.90) rotate(-90)" font-size="10.2" text-anchor="middle">42.5</text>
<rect x="478.5" y="28.5" width="313.5" height="173.0" fill="none" stroke="#000" stroke-width="1"/>
<line x1="487.90" y1="201.5" x2="487.90" y2="207.5" stroke="#000"/>
<text x="487.90" y="222.8" font-size="10.2" text-anchor="middle">-95.5</text>
<line x1="524.80" y1="201.5" x2="524.80" y2="207.5" stroke="#000"/>
<text x="524.80" y="222.8" font-size="10.2" text-anchor="middle">-93.5</text>
<line x1="561.70" y1="201.5" x2="561.70" y2="207.5" stroke="#000"/>
<text x="561.70" y="222.8" font-size="10.2" text-anchor="middle">-91.5</text>
<line x1="598.60" y1="201.5" x2="598.60" y2="207.5" stroke="#000"/>
<text x="598.60" y="222.8" font-size="10.2" text-anchor="middle">-89.5</text>
<line x1="635.50" y1="201.5" x2="635.50" y2="207.5" stroke="#000"/>
<text x="635.50" y="222.8" font-size="10.2" text-anchor="middle">-87.5</text>
<line x1="672.40" y1="201.5" x2="672.40" y2="207.5" stroke="#000"/>
<text x="672.40" y="222.8" font-size="10.2" text-anchor="middle">-85.5</text>
<line x1="709.30" y1="201.5" x2="709.30" y2="207.5" stroke="#000"/>
<text x="709.30" y="222.8" font-size="10.2" text-anchor="middle">-83.5</text>
<line x1="746.20" y1="201.5" x2="746.20" y2="207.5" stroke="#000"/>
<text x="746.20" y="222.8" font-size="10.2" text-anchor="middle">-81.5</text>
<line x1="783.10" y1="201.5" x2="783.10" y2="207.5" stroke="#000"/>
<text x="783.10" y="222.8" font-size="10.2" text-anchor="middle">-79.5</text>
<line x1="472.5" y1="199.70" x2="478.5" y2="199.70" stroke="#000"/>
<text transform="translate(463.8,200.10) rotate(-90)" font-size="10.2" text-anchor="middle">34.5</text>
<line x1="472.5" y1="157.15" x2="478.5" y2="157.15" stroke="#000"/>
<text transform="translate(463.8,157.55) rotate(-90)" font-size="10.2" text-anchor="middle">36.5</text>
<line x1="472.5" y1="114.60" x2="478.5" y2="114.60" stroke="#000"/>
<text transform="translate(463.8,115.00) rotate(-90)" font-size="10.2" text-anchor="middle">38.5</text>
<line x1="472.5" y1="72.05" x2="478.5" y2="72.05" stroke="#000"/>
<text transform="translate(463.8,72.45) rotate(-90)" font-size="10.2" text-anchor="middle">40.5</text>
<line x1="472.5" y1="29.50" x2="478.5" y2="29.50" stroke="#000"/>
<text transform="translate(463.8,29.90) rotate(-90)" font-size="10.2" text-anchor="middle">42.5</text>
<rect x="28.5" y="309.5" width="313.5" height="172.0" fill="none" stroke="#333" stroke-width="1"/>
<rect x="478.5" y="309.5" width="313.5" height="172.0" fill="none" stroke="#333" stroke-width="1"/>
<rect x="390.5" y="37.2" width="8.0" height="155.39999999999998" fill="url(#g1)" stroke="#9a9a9a" stroke-width="1"/>
<line x1="398.5" y1="37.800000000000004" x2="398.5" y2="192.0" stroke="#000"/>
<line x1="398.5" y1="191.60" x2="404.7" y2="191.60" stroke="#000"/>
<text x="410.7" y="195.90" font-size="10">0</text>
<line x1="398.5" y1="178.85" x2="404.7" y2="178.85" stroke="#000"/>
<text x="410.7" y="183.15" font-size="10">10</text>
<line x1="398.5" y1="166.10" x2="404.7" y2="166.10" stroke="#000"/>
<text x="410.7" y="170.40" font-size="10">20</text>
<line x1="398.5" y1="153.35" x2="404.7" y2="153.35" stroke="#000"/>
<text x="410.7" y="157.65" font-size="10">30</text>
<line x1="398.5" y1="140.60" x2="404.7" y2="140.60" stroke="#000"/>
<text x="410.7" y="144.90" font-size="10">40</text>
<line x1="398.5" y1="127.85" x2="404.7" y2="127.85" stroke="#000"/>
<text x="410.7" y="132.15" font-size="10">50</text>
<line x1="398.5" y1="115.10" x2="404.7" y2="115.10" stroke="#000"/>
<text x="410.7" y="119.40" font-size="10">60</text>
<line x1="398.5" y1="102.35" x2="404.7" y2="102.35" stroke="#000"/>
<text x="410.7" y="106.65" font-size="10">70</text>
<line x1="398.5" y1="89.60" x2="404.7" y2="89.60" stroke="#000"/>
<text x="410.7" y="93.90" font-size="10">80</text>
<line x1="398.5" y1="76.85" x2="404.7" y2="76.85" stroke="#000"/>
<text x="410.7" y="81.15" font-size="10">90</text>
<line x1="398.5" y1="64.10" x2="404.7" y2="64.10" stroke="#000"/>
<text x="410.7" y="68.40" font-size="10">100</text>
<line x1="398.5" y1="51.35" x2="404.7" y2="51.35" stroke="#000"/>
<text x="410.7" y="55.65" font-size="10">110</text>
<line x1="398.5" y1="38.60" x2="404.7" y2="38.60" stroke="#000"/>
<text x="410.7" y="42.90" font-size="10">120</text>
<text x="394.8" y="33.800000000000004" font-size="12" text-anchor="middle">ppbV</text>
<rect x="840.5" y="37.2" width="8.0" height="155.39999999999998" fill="url(#g1)" stroke="#9a9a9a" stroke-width="1"/>
<line x1="848.5" y1="37.800000000000004" x2="848.5" y2="192.0" stroke="#000"/>
<line x1="848.5" y1="191.60" x2="854.7" y2="191.60" stroke="#000"/>
<text x="860.7" y="195.90" font-size="10">0</text>
<line x1="848.5" y1="178.85" x2="854.7" y2="178.85" stroke="#000"/>
<text x="860.7" y="183.15" font-size="10">10</text>
<line x1="848.5" y1="166.10" x2="854.7" y2="166.10" stroke="#000"/>
<text x="860.7" y="170.40" font-size="10">20</text>
<line x1="848.5" y1="153.35" x2="854.7" y2="153.35" stroke="#000"/>
<text x="860.7" y="157.65" font-size="10">30</text>
<line x1="848.5" y1="140.60" x2="854.7" y2="140.60" stroke="#000"/>
<text x="860.7" y="144.90" font-size="10">40</text>
<line x1="848.5" y1="127.85" x2="854.7" y2="127.85" stroke="#000"/>
<text x="860.7" y="132.15" font-size="10">50</text>
<line x1="848.5" y1="115.10" x2="854.7" y2="115.10" stroke="#000"/>
<text x="860.7" y="119.40" font-size="10">60</text>
<line x1="848.5" y1="102.35" x2="854.7" y2="102.35" stroke="#000"/>
<text x="860.7" y="106.65" font-size="10">70</text>
<line x1="848.5" y1="89.60" x2="854.7" y2="89.60" stroke="#000"/>
<text x="860.7" y="93.90" font-size="10">80</text>
<line x1="848.5" y1="76.85" x2="854.7" y2="76.85" stroke="#000"/>
<text x="860.7" y="81.15" font-size="10">90</text>
<line x1="848.5" y1="64.10" x2="854.7" y2="64.10" stroke="#000"/>
<text x="860.7" y="68.40" font-size="10">100</text>
<line x1="848.5" y1="51.35" x2="854.7" y2="51.35" stroke="#000"/>
<text x="860.7" y="55.65" font-size="10">110</text>
<line x1="848.5" y1="38.60" x2="854.7" y2="38.60" stroke="#000"/>
<text x="860.7" y="42.90" font-size="10">120</text>
<text x="844.8" y="33.800000000000004" font-size="12" text-anchor="middle">ppbV</text>
<rect x="390.5" y="317.7" width="8.0" height="155.40000000000003" fill="url(#g2)" stroke="#9a9a9a" stroke-width="1"/>
<line x1="398.5" y1="318.3" x2="398.5" y2="472.5" stroke="#000"/>
<line x1="398.5" y1="472.10" x2="404.7" y2="472.10" stroke="#000"/>
<text x="410.7" y="476.40" font-size="10">0</text>
<line x1="398.5" y1="450.24" x2="404.7" y2="450.24" stroke="#000"/>
<text x="410.7" y="454.54" font-size="10">5</text>
<line x1="398.5" y1="428.39" x2="404.7" y2="428.39" stroke="#000"/>
<text x="410.7" y="432.69" font-size="10">10</text>
<line x1="398.5" y1="406.53" x2="404.7" y2="406.53" stroke="#000"/>
<text x="410.7" y="410.83" font-size="10">15</text>
<line x1="398.5" y1="384.67" x2="404.7" y2="384.67" stroke="#000"/>
<text x="410.7" y="388.97" font-size="10">20</text>
<line x1="398.5" y1="362.81" x2="404.7" y2="362.81" stroke="#000"/>
<text x="410.7" y="367.11" font-size="10">25</text>
<line x1="398.5" y1="340.96" x2="404.7" y2="340.96" stroke="#000"/>
<text x="410.7" y="345.26" font-size="10">30</text>
<line x1="398.5" y1="319.10" x2="404.7" y2="319.10" stroke="#000"/>
<text x="410.7" y="323.40" font-size="10">35</text>
<text x="394.8" y="314.3" font-size="12" text-anchor="middle">ppbV</text>
<rect x="840.5" y="317.7" width="8.0" height="155.40000000000003" fill="url(#g2)" stroke="#9a9a9a" stroke-width="1"/>
<line x1="848.5" y1="318.3" x2="848.5" y2="472.5" stroke="#000"/>
<line x1="848.5" y1="472.10" x2="854.7" y2="472.10" stroke="#000"/>
<text x="860.7" y="476.40" font-size="10">0</text>
<line x1="848.5" y1="456.80" x2="854.7" y2="456.80" stroke="#000"/>
<text x="860.7" y="461.10" font-size="10">10</text>
<line x1="848.5" y1="441.50" x2="854.7" y2="441.50" stroke="#000"/>
<text x="860.7" y="445.80" font-size="10">20</text>
<line x1="848.5" y1="426.20" x2="854.7" y2="426.20" stroke="#000"/>
<text x="860.7" y="430.50" font-size="10">30</text>
<line x1="848.5" y1="410.90" x2="854.7" y2="410.90" stroke="#000"/>
<text x="860.7" y="415.20" font-size="10">40</text>
<line x1="848.5" y1="395.60" x2="854.7" y2="395.60" stroke="#000"/>
<text x="860.7" y="399.90" font-size="10">50</text>
<line x1="848.5" y1="380.30" x2="854.7" y2="380.30" stroke="#000"/>
<text x="860.7" y="384.60" font-size="10">60</text>
<line x1="848.5" y1="365.00" x2="854.7" y2="365.00" stroke="#000"/>
<text x="860.7" y="369.30" font-size="10">70</text>
<line x1="848.5" y1="349.70" x2="854.7" y2="349.70" stroke="#000"/>
<text x="860.7" y="354.00" font-size="10">80</text>
<line x1="848.5" y1="334.40" x2="854.7" y2="334.40" stroke="#000"/>
<text x="860.7" y="338.70" font-size="10">90</text>
<line x1="848.5" y1="319.10" x2="854.7" y2="319.10" stroke="#000"/>
<text x="860.7" y="323.40" font-size="10">100</text>
<text x="844.8" y="314.3" font-size="12" text-anchor="middle">%</text>
</g></svg></body></html>
